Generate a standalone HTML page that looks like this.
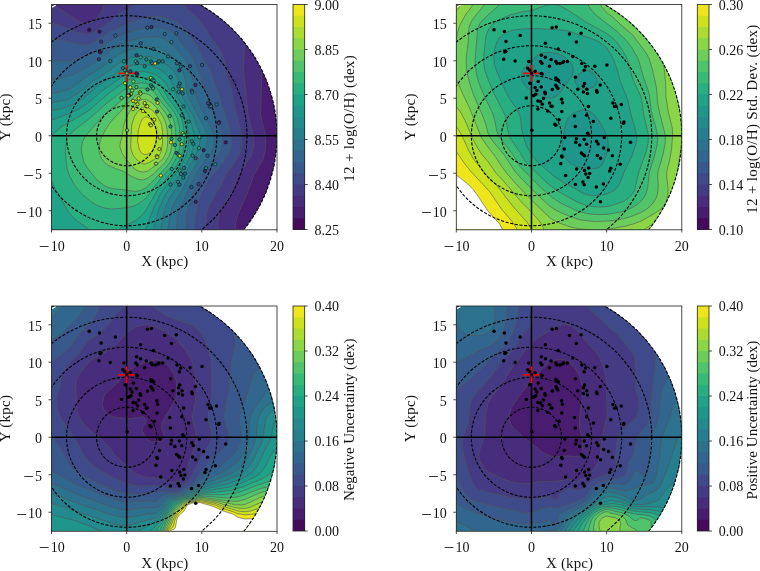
<!DOCTYPE html><html><head><meta charset="utf-8"><style>html,body{margin:0;padding:0;background:#fff;overflow:hidden}svg{display:block;will-change:transform}.t{font-family:"Liberation Serif",serif;font-size:14px;fill:#111;opacity:0.99}.l{font-family:"Liberation Serif",serif;font-size:15px;fill:#111;opacity:0.99}</style></head><body>
<svg width="760" height="571" viewBox="0 0 760 571">
<rect width="760" height="571" fill="#fff"/>
<clipPath id="cp0"><rect x="51.5" y="4.5" width="225.5" height="225"/></clipPath>
<clipPath id="cc0"><ellipse cx="126.67" cy="135.75" rx="150.33" ry="150.00"/></clipPath>
<g clip-path="url(#cp0)"><g clip-path="url(#cc0)" stroke="#555" stroke-opacity="0.85" stroke-width="0.7">
<path d="M49.6 233.2l231.2 0l0-232.4l-1.9 0l-231.2 0l0 232.4z" fill="#460a5d"/>
<path d="M49.6 233.2l228.6 0l-3.9-11.2l-0.3-3.8l0.9-3.7l3.2-5.6l1.3-3.8l-0.2-5.6l-3.2-11.3l-0.7-5.6l0.3-3.7l1.4-5.7l1.9-4l1.9-2.7l0-158.3l0-7.4l-233.1 0l0 232.4z" fill="#481c6e"/>
<path d="M49.6 233.2l185.2 0l0.9-9.6l1.1-5.4l1.9-5.6l9.1-20.6l6-16.9l9-15l2.4-9.3l0.5-7.6l-0.8-11.2l-3.6-13.1l-0.7-5.7l0.6-13.1l0.2-20.6l0.6-9.4l1.5-7.5l1.8-3.7l11.7-16.9l0.4-1.9l-0.4-1.9l-4.5-7.4l-0.1-1.9l0.8-2.2l1.9-2.2l1.9-1.3l3.8-1l0-12.1l0-9.3l-233.1 0l0 232.4z" fill="#472d7b"/>
<path d="M49.6 233.2l168 0l0.6-13.1l0.5-3.7l1.1-3.8l2.9-5.6l8.7-13.1l5.4-15l2.6-5.7l11.6-16.8l2-5.6l0.9-7.6l-0.1-3.7l-0.8-5.6l-4.1-15l-0.7-3.8l-4.2-39.3l-0.6-13.2l1.6-18.7l-1.1-7.5l-2.6-8.4l-3.8-8.8l-1.8-2.4l-7.6-4.8l-4.7-3.8l-2.8-3.7l-1.3-3.7l-114.1 0l-0.9 3.7l-2.1 5.6l-2 3.8l-2.9 3.7l-2.6 2.4l-3.7 2.4l-1.9 0.8l-3.8 0.6l-2.6-0.6l-3-1.3l-3.8-2.9l-18.8-11.4l-9.4-4.9l0 230.5zM241.3 6.4l1.9 0.4l3.7-0.1l15.1-2.7l11.2 0.7l7.6-0.7l0-3.2l-42.4 0l1 3.7l1.8 1.9z" fill="#443b84"/>
<path d="M49.6 233.2l155.4 0l0.6-11.2l1.5-9.4l1-3.7l6.9-13.8l5.6-9.2l3.1-7l2-3.8l9.2-13.1l4.5-7.5l2-5.6l0.7-7.5l-0.5-5.6l-1.1-5.7l-5.9-24.3l-3.3-16.9l-4.4-15l-1.9-11.3l-1.1-3.7l-2.2-5.7l-2-3.7l-7.3-9.4l-8.7-14.1l-5.6-7.3l-13.3-12.3l-4.4-5.6l-40.4 0l-4.7 3.7l-5.9 3.7l-11.2 5.7l-8 7.5l-7.7 5.6l-9.7 5.8l-3.7 1.2l-3.8 0l-7.5-1.5l-18.8-7.4l-5.6-1.5l-5.7-0.8l0 210.4z" fill="#3e4a89"/>
<path d="M49.6 233.2l145.3 0l0-9.3l1-9.4l2.7-13.1l2.4-7.5l3.7-7.5l4.7-7.2l12.8-15.3l5.3-7.5l2-3.8l1.4-3.7l0.8-3.8l0.2-3.7l-0.9-7.5l-3-11.3l-8-26.2l-5.8-15l-3.5-11.3l-6.1-9.3l-6.5-13.2l-1.9-2.7l-9.9-14.1l-5.1-5.8l-5.7-3.6l-5.6-2.5l-5.7-1.6l-5.6-0.8l-5.6 0l-7.5 1.2l-9.4 2.3l-7.6 2.5l-11.2 5.3l-11.3 6.3l-11.3 7.7l-5.6 2.4l-3.8 0.4l-5.6-0.4l-18.2-4.1l-8.1-1.4l-5.7-0.4l0 194.9z" fill="#38598c"/>
<path d="M49.6 233.2l136.2 0l0.4-16.8l2.1-9.4l1.7-5.6l6.2-14.7l5.6-11l3.8-5.2l4.4-4.7l5.9-7.6l3.8-5.6l2.2-5.6l0.9-5.6l-0.5-5.6l-2-7.6l-2.4-5.6l-6.5-13.1l-3.9-11.3l-7-22.4l-8.1-18.8l-1.8-3.8l-8.4-9.3l-6.7-9.2l-1.9-1.9l-3.7-2.1l-5.7-2.2l-5.6-0.9l-5.6-0.2l-7.5 0.7l-7.6 1.6l-7.5 2.1l-7.5 2.8l-9.4 4.1l-3.7 2l-18.8 13.6l-11.3 4.3l-7.5 1.8l-5.7 0.7l-18.8-0.4l0 172.5z" fill="#31668e"/>
<path d="M49.6 233.2l126.8 0l0.8-15l1.2-5.6l1.7-5.6l7.5-15l3.9-9.4l3.8-7.5l4.7-7.4l10.6-15.1l2.2-3.7l1.1-3.8l0.5-3.7l-0.2-5.6l-1.1-3.8l-11.3-22.5l-4.9-11.3l-5.6-24.3l-1.9-5.7l-2.6-5.5l-2.2-3.8l-7.2-8.8l-5.6-5.7l-4.9-4.3l-4.5-2.1l-3.8-0.9l-5.6-0.4l-5.7 0.4l-7.5 1.2l-7.5 1.9l-7.5 2.5l-5.6 2.5l-7.6 4.5l-11.5 9.2l-5.4 3.7l-13.1 7.6l-9.4 4.5l-11.3 3.6l-5.6 0.9l-7.6 0.4l0 153.6z" fill="#2c728e"/>
<path d="M49.6 233.2l118.1 0l1.9-16.8l1.4-5.6l2.1-5.7l1.8-3.7l7.1-11.3l8.6-16.6l12.2-20.9l3.6-7.5l0.8-3.7l-0.1-5.6l-1.7-5.7l-16.4-31.9l-1.6-3.7l-0.9-3.7l-1.3-11.3l-1.5-5.6l-1.5-3.8l-2.1-3.7l-2.7-3.7l-5.6-6.1l-5.7-4.6l-5.6-3.5l-3.8-1.2l-5.6-0.6l-5.6 0.1l-5.7 0.8l-11.3 2.5l-3.7 1.5l-5.6 2.9l-5.7 3.8l-13.1 10l-11.3 6.7l-15.1 11.1l-3.7 2.3l-5.6 2.3l-3.8 0.9l-5.6 1.2l-7.6 0.6l0 139.8z" fill="#277e8e"/>
<path d="M49.6 233.2l111 0l0.4-5.6l1.9-11.2l1.3-5.6l2-5.7l3.7-7.5l11.3-16.9l13-22.5l1.8-3.7l3.4-9.4l1.2-5.6l0-3.7l-0.9-3.8l-3.5-7.6l-2.5-7.4l-2.9-5.6l-7.8-13.2l-1.7-3.7l-1-3.7l-1.2-7.6l-1.7-5.6l-1.9-3.8l-3.7-4.8l-7.6-6.1l-5.6-3.2l-5.6-2.3l-3.8-0.7l-7.5-0.3l-7.5 0.6l-7.5 2.1l-7.5 4l-15.1 11.1l-11.5 7.2l-13.7 11.2l-8.6 5.6l-3.8 1.7l-3.7 1l-15.1 2.1l0 130.2z" fill="#238a8d"/>
<path d="M49.6 233.2l104 0l0.5-5.6l0.9-3.7l3.5-13.1l3.5-9.4l4.1-7.8l14.5-20.4l7.9-13.1l3.2-7.5l2.8-13.1l-0.3-5.6l-1.9-5.7l-3-11.2l-3.9-7.5l-8.4-13.1l-3.8-11.3l-2.4-5.6l-2.8-3.6l-5.6-4.8l-5.7-3.2l-5.6-2.1l-5.6-1.1l-5.7-0.3l-7.5 0.8l-5.6 1.7l-8.9 5.1l-9.9 7.5l-11.3 7.3l-7.5 7l-5.4 4.4l-9.7 6l-5.6 2.4l-9.4 2.7l-11.3 2l0 121.9z" fill="#1f968b"/>
<path d="M49.6 233.2l94.8 0l1.7-5.6l7.3-18.7l6-13.1l4.7-7.6l10.3-13.1l7.5-11.2l3.9-7.5l2.2-7.5l1.1-13.1l-1.9-11.3l-1.4-5.6l-3.6-7.5l-9.2-13.2l-3.5-7.4l-2.6-5.7l-2.7-3.8l-4.1-3.7l-5.2-3.1l-5.7-2l-5.6-1l-5.7-0.2l-5.6 0.9l-5.6 1.9l-5.7 3.2l-11.2 8.3l-7.8 5.2l-12.9 11.5l-10.9 7.2l-6 2.9l-13.2 5.1l-7.5 2.6l-3.8 0.8l0 112.3z" fill="#1fa287"/>
<path d="M91 231.4l1.3 1.8l23.6 0l3.2-3.7l3.8-3.1l11.3-5.1l5.6-4l3.8-4l1.9-2.5l13.1-22.6l16.6-20.6l4.5-7.5l2.5-5.6l1.8-7.5l0.4-11.2l-1.2-11.3l-1.5-5.6l-1.6-3.8l-6.2-9.3l-5.8-7.6l-7.6-13.3l-3.8-2.8l-5.6-2.8l-3.8-1.1l-5.6-0.8l-5.6 0.3l-3.8 0.8l-3.8 1.4l-5.9 3.3l-5.4 3.8l-12.1 9.4l-16 13.8l-5.7 3.9l-22.5 12.9l-9.4 8.8l-3.8 2.7l0 35.4l1.9 2.9l5.3 11.4l7.9 13.5l3.6 7.2l2 3l5.6 6.5l3.8 3.1l8.9 6.1l4.2 3.8z" fill="#28ae80"/>
<path d="M111.6 208.9l9.4-0.6l9.4-1.3l3.8-1l3.7-1.9l7.6-5.5l3.7-4.6l5.7-8.3l17.1-19.9l5.3-9.4l2.2-7.5l0.7-9.4l-0.9-13.1l-1.8-7.5l-2.8-5.7l-4-5.6l-6.1-7.5l-6-9.8l-1.9-2.4l-3.7-2.2l-5.7-2.1l-5.6-0.7l-5.6 0.5l-5.6 1.7l-7.7 5.7l-16.8 13.1l-16.9 15l-14.8 11.2l-5.6 5.7l-1.1 1.8l-1.2 3.8l-1 11.2l1.5 15l2.3 7.5l4.8 9l3.8 5.1l5.6 6.3l7.6 6.2l5.6 3.4l3.8 1.7l5.6 1.6l4.5 0.5z" fill="#38b977"/>
<path d="M126.7 190.2l7.5 1.2l5.6-0.6l5.7-2.9l3.7-3.2l7.5-7.4l9.1-9.7l4.1-5.3l3.2-5.9l1.4-3.8l0.9-3.7l0.6-5.7l-0.4-13.1l-0.8-5.6l-1.5-5.6l-1.9-3.8l-2.4-3.7l-7.7-9.4l-6.6-9.4l-1.7-1.6l-1.9-1l-3.8-1.3l-3.7-0.6l-3.8 0l-3.7 0.6l-3.8 2.1l-18.8 16.4l-5.7 4.2l-5.8 5.6l-16.3 18.8l-2.9 5.6l-1.4 5.6l0.3 5.6l2.1 9.4l3.3 5.6l9.5 12l7.5 5.7l3.8 2l5.6 1.4l13 1.4z" fill="#50c46a"/>
<path d="M137.9 179.2l3.8 0.7l1.9-0.1l3.7-1.4l5.7-4l12.5-12.4l3.3-5.6l2-5.6l1-5.7l0.2-7.5l-0.7-9.4l-1.2-5.6l-1.3-3.7l-3.1-5.7l-7.1-8.9l-7.5-8.2l-2.3-1.6l-3.3-0.9l-3.8-0.3l-3.8 0.9l-1.8 1.2l-5.5 4.7l-11.4 13.1l-5.9 5.7l-4.5 5.6l-5.6 9.4l-1.8 3.7l-1.9 5.6l-0.7 5.7l0.5 3.7l1.2 3.8l2 3.7l3.5 3.9l1.9 1.2l7.5 3.3l7.5 2.6l7.5 4.7l6.7 3.1z" fill="#6ccd5a"/>
<path d="M139.8 171.6l3.8 0.4l3.7-0.9l3.8-2.4l9.4-7.5l2.6-3l2.1-3.7l1.3-3.7l1-5.7l0.2-5.6l-0.5-9.4l-1-5.6l-2-5.6l-3.7-6.4l-3.8-5l-5.6-5.3l-3.8-2.1l-1.8-0.5l-3.8 0.1l-3.8 1.7l-3.7 3.3l-3.5 4.8l-4 7.5l-2.3 5.6l-0.9 3.8l-1.2 9.4l-2.5 9.3l0.2 1.9l1.8 5.6l3.5 5.6l7.9 9.4l2.9 2.3l3.1 1.5z" fill="#8bd646"/>
<path d="M145.5 163.9l3.7-1.5l5.7-3.3l3.7-3.1l1.9-2.9l0.8-2.3l1.2-7.6l0.1-11.2l-0.8-5.6l-1-3.8l-3-5.6l-2.9-3.9l-3.8-3.7l-3-1.8l-2.6-0.8l-1.9 0.2l-1.9 0.9l-3.9 3.5l-3.6 5.7l-2.4 7.4l-0.3 3.7l-0.8 18.8l0.3 1.9l1.8 5.6l2.6 3.7l4.2 3.8l2.1 1.2l1.9 0.6l1.6 0.1z" fill="#addc30"/>
<path d="M141.7 153.1l1.9 1.1l1.9 0.3l1.8-0.3l3.4-1.6l2.3-2.7l2.5-6.7l1.4-7.4l-0.2-5.8l-1.2-3.6l-4.4-6.9l-1.9-1.6l-1.9-0.8l-1.8-0.1l-1.9 0.9l-1 1l-2.1 3.7l-2.1 7.5l-0.9 11.3l1.7 7.5l0.7 1.9l1.3 1.8z" fill="#cde11d"/>
</g></g>
<g clip-path="url(#cp0)" fill="none" stroke="#000" stroke-width="1.1" stroke-dasharray="3.1 1.6">
<ellipse cx="126.67" cy="135.75" rx="30.07" ry="30.00"/>
<ellipse cx="126.67" cy="135.75" rx="60.13" ry="60.00"/>
<ellipse cx="126.67" cy="135.75" rx="90.20" ry="90.00"/>
<ellipse cx="126.67" cy="135.75" rx="120.27" ry="120.00"/>
<ellipse cx="126.67" cy="135.75" rx="150.33" ry="150.00"/>
</g>
<line x1="51.5" y1="135.75" x2="277.0" y2="135.75" stroke="#000" stroke-width="1.5"/>
<line x1="126.67" y1="4.5" x2="126.67" y2="229.5" stroke="#000" stroke-width="1.5"/>
<g clip-path="url(#cp0)"><path d="M118.4 73.4H135.0M126.7 65.0V81.8" stroke="#f00" stroke-width="1.7" fill="none"/><circle cx="89.2" cy="29.8" r="1.65" fill="#460a5d" stroke="#111" stroke-width="0.65"/>
<circle cx="99.6" cy="31.6" r="1.65" fill="#460a5d" stroke="#111" stroke-width="0.65"/>
<circle cx="115.4" cy="35.6" r="1.65" fill="#2c728e" stroke="#111" stroke-width="0.65"/>
<circle cx="101.2" cy="41.6" r="1.65" fill="#443b84" stroke="#111" stroke-width="0.65"/>
<circle cx="101.0" cy="51.3" r="1.65" fill="#1f968b" stroke="#111" stroke-width="0.65"/>
<circle cx="100.0" cy="52.1" r="1.65" fill="#460a5d" stroke="#111" stroke-width="0.65"/>
<circle cx="98.9" cy="59.3" r="1.65" fill="#443b84" stroke="#111" stroke-width="0.65"/>
<circle cx="110.3" cy="61.1" r="1.65" fill="#277e8e" stroke="#111" stroke-width="0.65"/>
<circle cx="124.0" cy="61.4" r="1.65" fill="#1fa287" stroke="#111" stroke-width="0.65"/>
<circle cx="147.3" cy="27.8" r="1.65" fill="#31668e" stroke="#111" stroke-width="0.65"/>
<circle cx="151.5" cy="27.1" r="1.65" fill="#472d7b" stroke="#111" stroke-width="0.65"/>
<circle cx="164.7" cy="34.0" r="1.65" fill="#2c728e" stroke="#111" stroke-width="0.65"/>
<circle cx="140.6" cy="43.2" r="1.65" fill="#38598c" stroke="#111" stroke-width="0.65"/>
<circle cx="153.4" cy="48.9" r="1.65" fill="#38598c" stroke="#111" stroke-width="0.65"/>
<circle cx="136.6" cy="55.2" r="1.65" fill="#443b84" stroke="#111" stroke-width="0.65"/>
<circle cx="140.6" cy="57.3" r="1.65" fill="#28ae80" stroke="#111" stroke-width="0.65"/>
<circle cx="146.3" cy="59.4" r="1.65" fill="#238a8d" stroke="#111" stroke-width="0.65"/>
<circle cx="135.8" cy="61.4" r="1.65" fill="#38b977" stroke="#111" stroke-width="0.65"/>
<circle cx="137.1" cy="63.2" r="1.65" fill="#2c728e" stroke="#111" stroke-width="0.65"/>
<circle cx="151.0" cy="61.4" r="1.65" fill="#238a8d" stroke="#111" stroke-width="0.65"/>
<circle cx="152.1" cy="63.2" r="1.65" fill="#238a8d" stroke="#111" stroke-width="0.65"/>
<circle cx="155.2" cy="63.4" r="1.65" fill="#efe51c" stroke="#111" stroke-width="0.65"/>
<circle cx="157.9" cy="62.4" r="1.65" fill="#238a8d" stroke="#111" stroke-width="0.65"/>
<circle cx="158.9" cy="61.4" r="1.65" fill="#277e8e" stroke="#111" stroke-width="0.65"/>
<circle cx="162.6" cy="61.4" r="1.65" fill="#277e8e" stroke="#111" stroke-width="0.65"/>
<circle cx="144.7" cy="66.3" r="1.65" fill="#238a8d" stroke="#111" stroke-width="0.65"/>
<circle cx="122.9" cy="68.2" r="1.65" fill="#2c728e" stroke="#111" stroke-width="0.65"/>
<circle cx="125.0" cy="70.3" r="1.65" fill="#1fa287" stroke="#111" stroke-width="0.65"/>
<circle cx="130.3" cy="71.3" r="1.65" fill="#3e4a89" stroke="#111" stroke-width="0.65"/>
<circle cx="137.3" cy="74.0" r="1.65" fill="#2c728e" stroke="#111" stroke-width="0.65"/>
<circle cx="176.3" cy="33.2" r="1.65" fill="#2c728e" stroke="#111" stroke-width="0.65"/>
<circle cx="171.5" cy="42.1" r="1.65" fill="#238a8d" stroke="#111" stroke-width="0.65"/>
<circle cx="168.1" cy="56.5" r="1.65" fill="#277e8e" stroke="#111" stroke-width="0.65"/>
<circle cx="177.0" cy="63.4" r="1.65" fill="#2c728e" stroke="#111" stroke-width="0.65"/>
<circle cx="180.7" cy="66.4" r="1.65" fill="#2c728e" stroke="#111" stroke-width="0.65"/>
<circle cx="179.4" cy="70.3" r="1.65" fill="#472d7b" stroke="#111" stroke-width="0.65"/>
<circle cx="190.0" cy="66.2" r="1.65" fill="#3e4a89" stroke="#111" stroke-width="0.65"/>
<circle cx="202.1" cy="65.0" r="1.65" fill="#31668e" stroke="#111" stroke-width="0.65"/>
<circle cx="136.4" cy="73.5" r="1.65" fill="#481c6e" stroke="#111" stroke-width="0.65"/>
<circle cx="125.0" cy="83.2" r="1.65" fill="#cde11d" stroke="#111" stroke-width="0.65"/>
<circle cx="133.4" cy="81.4" r="1.65" fill="#8bd646" stroke="#111" stroke-width="0.65"/>
<circle cx="151.0" cy="77.9" r="1.65" fill="#addc30" stroke="#111" stroke-width="0.65"/>
<circle cx="152.6" cy="79.5" r="1.65" fill="#28ae80" stroke="#111" stroke-width="0.65"/>
<circle cx="153.7" cy="80.6" r="1.65" fill="#1fa287" stroke="#111" stroke-width="0.65"/>
<circle cx="130.3" cy="87.4" r="1.65" fill="#efe51c" stroke="#111" stroke-width="0.65"/>
<circle cx="136.4" cy="87.1" r="1.65" fill="#50c46a" stroke="#111" stroke-width="0.65"/>
<circle cx="132.1" cy="90.5" r="1.65" fill="#8bd646" stroke="#111" stroke-width="0.65"/>
<circle cx="151.0" cy="85.3" r="1.65" fill="#1f968b" stroke="#111" stroke-width="0.65"/>
<circle cx="152.1" cy="86.9" r="1.65" fill="#238a8d" stroke="#111" stroke-width="0.65"/>
<circle cx="153.1" cy="88.4" r="1.65" fill="#28ae80" stroke="#111" stroke-width="0.65"/>
<circle cx="147.5" cy="89.5" r="1.65" fill="#238a8d" stroke="#111" stroke-width="0.65"/>
<circle cx="140.1" cy="92.3" r="1.65" fill="#addc30" stroke="#111" stroke-width="0.65"/>
<circle cx="140.5" cy="93.7" r="1.65" fill="#8bd646" stroke="#111" stroke-width="0.65"/>
<circle cx="131.0" cy="94.2" r="1.65" fill="#addc30" stroke="#111" stroke-width="0.65"/>
<circle cx="129.4" cy="95.2" r="1.65" fill="#481c6e" stroke="#111" stroke-width="0.65"/>
<circle cx="128.4" cy="95.8" r="1.65" fill="#addc30" stroke="#111" stroke-width="0.65"/>
<circle cx="121.5" cy="97.9" r="1.65" fill="#6ccd5a" stroke="#111" stroke-width="0.65"/>
<circle cx="138.7" cy="98.4" r="1.65" fill="#cde11d" stroke="#111" stroke-width="0.65"/>
<circle cx="133.1" cy="101.0" r="1.65" fill="#efe51c" stroke="#111" stroke-width="0.65"/>
<circle cx="135.8" cy="101.6" r="1.65" fill="#cde11d" stroke="#111" stroke-width="0.65"/>
<circle cx="137.5" cy="104.2" r="1.65" fill="#cde11d" stroke="#111" stroke-width="0.65"/>
<circle cx="144.7" cy="103.1" r="1.65" fill="#cde11d" stroke="#111" stroke-width="0.65"/>
<circle cx="146.3" cy="106.3" r="1.65" fill="#cde11d" stroke="#111" stroke-width="0.65"/>
<circle cx="147.3" cy="106.3" r="1.65" fill="#cde11d" stroke="#111" stroke-width="0.65"/>
<circle cx="156.8" cy="99.3" r="1.65" fill="#2c728e" stroke="#111" stroke-width="0.65"/>
<circle cx="157.6" cy="102.8" r="1.65" fill="#efe51c" stroke="#111" stroke-width="0.65"/>
<circle cx="133.1" cy="109.1" r="1.65" fill="#efe51c" stroke="#111" stroke-width="0.65"/>
<circle cx="157.0" cy="111.6" r="1.65" fill="#31668e" stroke="#111" stroke-width="0.65"/>
<circle cx="142.9" cy="111.1" r="1.65" fill="#efe51c" stroke="#111" stroke-width="0.65"/>
<circle cx="154.2" cy="119.7" r="1.65" fill="#cde11d" stroke="#111" stroke-width="0.65"/>
<circle cx="150.0" cy="124.2" r="1.65" fill="#cde11d" stroke="#111" stroke-width="0.65"/>
<circle cx="151.0" cy="125.3" r="1.65" fill="#addc30" stroke="#111" stroke-width="0.65"/>
<circle cx="170.7" cy="77.2" r="1.65" fill="#277e8e" stroke="#111" stroke-width="0.65"/>
<circle cx="179.7" cy="83.5" r="1.65" fill="#2c728e" stroke="#111" stroke-width="0.65"/>
<circle cx="178.6" cy="86.3" r="1.65" fill="#277e8e" stroke="#111" stroke-width="0.65"/>
<circle cx="173.0" cy="89.2" r="1.65" fill="#28ae80" stroke="#111" stroke-width="0.65"/>
<circle cx="182.0" cy="89.2" r="1.65" fill="#cde11d" stroke="#111" stroke-width="0.65"/>
<circle cx="178.6" cy="91.9" r="1.65" fill="#238a8d" stroke="#111" stroke-width="0.65"/>
<circle cx="182.6" cy="93.4" r="1.65" fill="#2c728e" stroke="#111" stroke-width="0.65"/>
<circle cx="195.4" cy="85.0" r="1.65" fill="#472d7b" stroke="#111" stroke-width="0.65"/>
<circle cx="191.8" cy="90.5" r="1.65" fill="#31668e" stroke="#111" stroke-width="0.65"/>
<circle cx="192.3" cy="92.3" r="1.65" fill="#277e8e" stroke="#111" stroke-width="0.65"/>
<circle cx="183.6" cy="106.5" r="1.65" fill="#238a8d" stroke="#111" stroke-width="0.65"/>
<circle cx="208.1" cy="103.1" r="1.65" fill="#3e4a89" stroke="#111" stroke-width="0.65"/>
<circle cx="209.7" cy="106.5" r="1.65" fill="#38598c" stroke="#111" stroke-width="0.65"/>
<circle cx="211.2" cy="106.3" r="1.65" fill="#2c728e" stroke="#111" stroke-width="0.65"/>
<circle cx="216.5" cy="104.5" r="1.65" fill="#277e8e" stroke="#111" stroke-width="0.65"/>
<circle cx="169.7" cy="116.0" r="1.65" fill="#28ae80" stroke="#111" stroke-width="0.65"/>
<circle cx="181.8" cy="115.3" r="1.65" fill="#238a8d" stroke="#111" stroke-width="0.65"/>
<circle cx="188.6" cy="121.6" r="1.65" fill="#1f968b" stroke="#111" stroke-width="0.65"/>
<circle cx="206.0" cy="118.2" r="1.65" fill="#31668e" stroke="#111" stroke-width="0.65"/>
<circle cx="219.1" cy="122.1" r="1.65" fill="#481c6e" stroke="#111" stroke-width="0.65"/>
<circle cx="218.6" cy="123.2" r="1.65" fill="#443b84" stroke="#111" stroke-width="0.65"/>
<circle cx="170.5" cy="126.5" r="1.65" fill="#1f968b" stroke="#111" stroke-width="0.65"/>
<circle cx="127.1" cy="130.3" r="1.65" fill="#6ccd5a" stroke="#111" stroke-width="0.65"/>
<circle cx="160.0" cy="137.6" r="1.65" fill="#cde11d" stroke="#111" stroke-width="0.65"/>
<circle cx="159.4" cy="149.0" r="1.65" fill="#cde11d" stroke="#111" stroke-width="0.65"/>
<circle cx="156.8" cy="156.1" r="1.65" fill="#cde11d" stroke="#111" stroke-width="0.65"/>
<circle cx="157.3" cy="157.1" r="1.65" fill="#cde11d" stroke="#111" stroke-width="0.65"/>
<circle cx="156.0" cy="163.7" r="1.65" fill="#8bd646" stroke="#111" stroke-width="0.65"/>
<circle cx="160.8" cy="175.5" r="1.65" fill="#efe51c" stroke="#111" stroke-width="0.65"/>
<circle cx="182.8" cy="133.2" r="1.65" fill="#cde11d" stroke="#111" stroke-width="0.65"/>
<circle cx="183.9" cy="134.7" r="1.65" fill="#38b977" stroke="#111" stroke-width="0.65"/>
<circle cx="199.4" cy="137.4" r="1.65" fill="#28ae80" stroke="#111" stroke-width="0.65"/>
<circle cx="171.5" cy="138.7" r="1.65" fill="#1fa287" stroke="#111" stroke-width="0.65"/>
<circle cx="179.4" cy="139.5" r="1.65" fill="#1fa287" stroke="#111" stroke-width="0.65"/>
<circle cx="171.0" cy="142.3" r="1.65" fill="#efe51c" stroke="#111" stroke-width="0.65"/>
<circle cx="174.9" cy="145.0" r="1.65" fill="#1f968b" stroke="#111" stroke-width="0.65"/>
<circle cx="181.8" cy="144.3" r="1.65" fill="#addc30" stroke="#111" stroke-width="0.65"/>
<circle cx="191.8" cy="141.3" r="1.65" fill="#238a8d" stroke="#111" stroke-width="0.65"/>
<circle cx="193.3" cy="143.9" r="1.65" fill="#238a8d" stroke="#111" stroke-width="0.65"/>
<circle cx="198.9" cy="148.1" r="1.65" fill="#28ae80" stroke="#111" stroke-width="0.65"/>
<circle cx="203.6" cy="150.1" r="1.65" fill="#481c6e" stroke="#111" stroke-width="0.65"/>
<circle cx="225.7" cy="142.3" r="1.65" fill="#481c6e" stroke="#111" stroke-width="0.65"/>
<circle cx="176.5" cy="152.9" r="1.65" fill="#31668e" stroke="#111" stroke-width="0.65"/>
<circle cx="178.3" cy="154.5" r="1.65" fill="#238a8d" stroke="#111" stroke-width="0.65"/>
<circle cx="179.7" cy="155.8" r="1.65" fill="#cde11d" stroke="#111" stroke-width="0.65"/>
<circle cx="192.6" cy="155.6" r="1.65" fill="#238a8d" stroke="#111" stroke-width="0.65"/>
<circle cx="195.7" cy="158.2" r="1.65" fill="#38598c" stroke="#111" stroke-width="0.65"/>
<circle cx="207.5" cy="155.7" r="1.65" fill="#38598c" stroke="#111" stroke-width="0.65"/>
<circle cx="215.4" cy="164.2" r="1.65" fill="#1f968b" stroke="#111" stroke-width="0.65"/>
<circle cx="171.8" cy="169.0" r="1.65" fill="#1fa287" stroke="#111" stroke-width="0.65"/>
<circle cx="183.9" cy="167.9" r="1.65" fill="#277e8e" stroke="#111" stroke-width="0.65"/>
<circle cx="179.7" cy="170.5" r="1.65" fill="#28ae80" stroke="#111" stroke-width="0.65"/>
<circle cx="206.0" cy="168.2" r="1.65" fill="#1f968b" stroke="#111" stroke-width="0.65"/>
<circle cx="204.9" cy="171.1" r="1.65" fill="#481c6e" stroke="#111" stroke-width="0.65"/>
<circle cx="181.0" cy="173.9" r="1.65" fill="#238a8d" stroke="#111" stroke-width="0.65"/>
<circle cx="184.9" cy="173.6" r="1.65" fill="#31668e" stroke="#111" stroke-width="0.65"/>
<circle cx="183.3" cy="177.6" r="1.65" fill="#238a8d" stroke="#111" stroke-width="0.65"/>
<circle cx="178.1" cy="181.9" r="1.65" fill="#238a8d" stroke="#111" stroke-width="0.65"/>
<circle cx="170.5" cy="184.5" r="1.65" fill="#238a8d" stroke="#111" stroke-width="0.65"/>
<circle cx="198.6" cy="184.0" r="1.65" fill="#3e4a89" stroke="#111" stroke-width="0.65"/>
<circle cx="179.4" cy="184.7" r="1.65" fill="#31668e" stroke="#111" stroke-width="0.65"/>
<circle cx="191.5" cy="187.1" r="1.65" fill="#38598c" stroke="#111" stroke-width="0.65"/>
<circle cx="195.7" cy="201.8" r="1.65" fill="#481c6e" stroke="#111" stroke-width="0.65"/>
<circle cx="126.8" cy="73.3" r="1.65" fill="#50c46a" stroke="#111" stroke-width="0.65"/></g>
<path d="M52.4 6.9L55.4 5.2" stroke="#f4f4f4" stroke-width="1.3" stroke-linecap="round"/>
<rect x="51.5" y="4.5" width="225.5" height="225.3" fill="none" stroke="#2a2a2a" stroke-width="0.85"/>
<path d="M51.50 229.5V232.5M126.67 229.5V232.5M201.83 229.5V232.5M277.00 229.5V232.5M51.5  210.75H48.5M51.5  173.25H48.5M51.5  135.75H48.5M51.5  98.25H48.5M51.5  60.75H48.5M51.5  23.25H48.5" stroke="#222" stroke-width="0.8" fill="none"/>
<text x="50.65" y="250.8" class="t">10</text>
<rect x="39.75" y="246" width="8.8" height="1" fill="#111" fill-opacity="0.85"/>
<text x="126.67" y="250.8" text-anchor="middle" class="t">0</text>
<text x="201.83" y="250.8" text-anchor="middle" class="t">10</text>
<text x="277.00" y="250.8" text-anchor="middle" class="t">20</text>
<text x="41.9" y="216.95" text-anchor="end" class="t">10</text>
<rect x="17.30" y="212" width="8.8" height="1" fill="#111" fill-opacity="0.85"/>
<text x="41.9" y="179.45" text-anchor="end" class="t">5</text>
<rect x="24.30" y="175" width="8.8" height="1" fill="#111" fill-opacity="0.85"/>
<text x="41.9" y="141.95" text-anchor="end" class="t">0</text>
<text x="41.9" y="104.45" text-anchor="end" class="t">5</text>
<text x="41.9" y="66.95" text-anchor="end" class="t">10</text>
<text x="41.9" y="29.45" text-anchor="end" class="t">15</text>
<text x="164.75" y="266.3" text-anchor="middle" class="l" textLength="47" lengthAdjust="spacing">X (kpc)</text>
<text transform="translate(10.2 117.1) rotate(-90)" text-anchor="middle" class="l" textLength="47.2" lengthAdjust="spacing">Y (kpc)</text>
<rect x="293.0" y="4.50" width="11.7" height="225.00" fill="#efe51c"/>
<rect x="293.0" y="15.75" width="11.7" height="213.75" fill="#cde11d"/>
<rect x="293.0" y="27.00" width="11.7" height="202.50" fill="#addc30"/>
<rect x="293.0" y="38.25" width="11.7" height="191.25" fill="#8bd646"/>
<rect x="293.0" y="49.50" width="11.7" height="180.00" fill="#6ccd5a"/>
<rect x="293.0" y="60.75" width="11.7" height="168.75" fill="#50c46a"/>
<rect x="293.0" y="72.00" width="11.7" height="157.50" fill="#38b977"/>
<rect x="293.0" y="83.25" width="11.7" height="146.25" fill="#28ae80"/>
<rect x="293.0" y="94.50" width="11.7" height="135.00" fill="#1fa287"/>
<rect x="293.0" y="105.75" width="11.7" height="123.75" fill="#1f968b"/>
<rect x="293.0" y="117.00" width="11.7" height="112.50" fill="#238a8d"/>
<rect x="293.0" y="128.25" width="11.7" height="101.25" fill="#277e8e"/>
<rect x="293.0" y="139.50" width="11.7" height="90.00" fill="#2c728e"/>
<rect x="293.0" y="150.75" width="11.7" height="78.75" fill="#31668e"/>
<rect x="293.0" y="162.00" width="11.7" height="67.50" fill="#38598c"/>
<rect x="293.0" y="173.25" width="11.7" height="56.25" fill="#3e4a89"/>
<rect x="293.0" y="184.50" width="11.7" height="45.00" fill="#443b84"/>
<rect x="293.0" y="195.75" width="11.7" height="33.75" fill="#472d7b"/>
<rect x="293.0" y="207.00" width="11.7" height="22.50" fill="#481c6e"/>
<rect x="293.0" y="218.25" width="11.7" height="11.25" fill="#460a5d"/>
<rect x="293.0" y="4.5" width="11.7" height="225" fill="none" stroke="#222" stroke-width="0.8"/>
<text x="314.5" y="234.90" class="t">8.25</text>
<text x="314.5" y="189.90" class="t">8.40</text>
<text x="314.5" y="144.90" class="t">8.55</text>
<text x="314.5" y="99.90" class="t">8.70</text>
<text x="314.5" y="54.90" class="t">8.85</text>
<text x="314.5" y="9.90" class="t">9.00</text>
<path d="M304.7 229.50h3M304.7 184.50h3M304.7 139.50h3M304.7 94.50h3M304.7 49.50h3M304.7 4.50h3" stroke="#222" stroke-width="0.8" fill="none"/>
<text transform="translate(353.6 118.5) rotate(-90)" text-anchor="middle" class="l" textLength="126.3" lengthAdjust="spacing">12 + log(O/H) (dex)</text>
<clipPath id="cp1"><rect x="456.3" y="4.5" width="225.5" height="225"/></clipPath>
<clipPath id="cc1"><ellipse cx="531.47" cy="135.75" rx="150.33" ry="150.00"/></clipPath>
<g clip-path="url(#cp1)"><g clip-path="url(#cc1)" stroke="#555" stroke-opacity="0.85" stroke-width="0.7">
<path d="M454.4 233.2l231.2 0l0-232.4l-1.9 0l-231.2 0l0 232.4z" fill="#460a5d"/>
<path d="M454.4 233.2l231.2 0l0-232.4l-1.9 0l-231.2 0l0 232.4z" fill="#481c6e"/>
<path d="M454.4 233.2l231.2 0l0-232.4l-1.9 0l-231.2 0l0 232.4z" fill="#472d7b"/>
<path d="M454.4 233.2l231.2 0l0-232.4l-1.9 0l-231.2 0l0 232.4z" fill="#443b84"/>
<path d="M454.4 233.2l231.2 0l0-232.4l-1.9 0l-231.2 0l0 232.4z" fill="#3e4a89"/>
<path d="M454.4 233.2l231.2 0l0-232.4l-1.9 0l-231.2 0l0 232.4z" fill="#38598c"/>
<path d="M454.4 233.2l231.2 0l0-232.4l-1.9 0l-231.2 0l0 232.4z" fill="#31668e"/>
<path d="M454.4 233.2l231.2 0l0-232.4l-1.9 0l-231.2 0l0 232.4z" fill="#2c728e"/>
<path d="M454.4 233.2l231.2 0l0-232.4l-1.9 0l-231.2 0l0 232.4z" fill="#277e8e"/>
<path d="M454.4 233.2l231.2 0l0-232.4l-1.9 0l-231.2 0l0 232.4z" fill="#238a8d"/>
<path d="M454.4 233.2l231.2 0l0-232.4l-1.9 0l-231.2 0l0 232.4z" fill="#1f968b"/>
<path d="M454.4 233.2l231.2 0l0-232.4l-1.9 0l-231.2 0l0 232.4zM581.6 167.6l-6.6-1.8l-3.8-1.9l-2.4-1.9l-3.5-4.1l-2-3.4l-1.1-3.7l0.4-11.3l2.1-11.3l1.5-5.6l1.7-3.7l2.8-3.8l4-2.7l7.5-2.4l3.8 0l3.7 1.4l3.8 2.9l3.7 4.3l4.2 5.9l2.9 5.6l2.3 5.7l1.1 3.7l0.6 5.6l-0.3 3.8l-1.4 5.6l-3 7.5l-2.4 3.8l-2.1 1.6l-1.9 0.7l-5.6 0.7l-9.4-1zM550.3 98.2l-3.8-0.3l-5.6-2.1l-5.7-2.9l-9.4-5.9l-3.3-5.6l-1.3-3.8l0.4-3.7l1.1-3.8l1.1-1.9l1.8-1.8l9.6-9.1l3.8-3.1l1.9-1l5.6-0.7l5.6 0.3l5.7 0.9l3.7 1.4l3.2 1.9l2.5 1.9l3.4 3.7l2 3.8l0.7 3.7l-0.2 1.9l-1.3 3.8l-10.3 15l-3.4 3.7l-2.2 1.7l-1.9 1.1l-3.7 0.9zM580.1 88.9l-1.7-0.8l-1.9-3l-1.5-3.7l-0.3-1.9l0.5-1.9l4.1-3.7l4.8-3.2l1.4-0.6l2.3-0.1l3.8 2l3.6 3.8l1.8 3.7l0 1.9l-0.5 1.8l-1.1 2.2l-1.9 1.9l-1.9 0.5l-7.5 1l-3.8 0.1z" fill="#1fa287"/>
<path d="M454.4 233.2l231.2 0l0-232.4l-1.9 0l-231.2 0l0 232.4zM584.6 193.9l-4.3-2l-5.9-3.7l-10.7-5.6l-9.7-6.4l-14.3-12.3l-4.5-4.7l-3.7-4.7l-4.5-7.5l-3-7.9l-2.9-12.7l-0.3-7.5l-1-3.8l-2.9-5.6l-7.6-11.3l-3.1-5.6l-9.2-20.6l-2.5-7.5l-0.6-3.7l-0.1-5.7l0.4-3.7l1.3-5.6l2.1-5.2l1.5-2.4l4.2-3.7l5.6-3.1l5.7-1.6l9.4-1l11.2-0.2l8 0.3l18.3 1l7.5 1.2l9.4 3.5l9.4 2.6l7.6 2.9l3.9 1.9l5.1 3.8l2.2 2.2l1.9 2.7l5.6 10.1l3.2 9.3l3 11.3l7.6 18.7l3.7 16.9l3.2 10.4l1.8 8.4l0 3.7l-1 5.6l-3.8 11.3l-6.6 13.1l-6 15l-2.7 3.7l-2.1 1.9l-3.1 1.9l-4.7 1.9l-7.5 1.5l-7.5 0.2l-5.6-1.2z" fill="#28ae80"/>
<path d="M454.4 233.2l231.2 0l0-232.4l-1.9 0l-231.2 0l0 232.4zM597.8 207l-10-1.2l-5.6-1.8l-6-2.6l-16.5-9.1l-7.6-5.2l-5.6-4.7l-15-14.4l-5.7-6l-1.8-2.5l-3.9-6.9l-9-13.1l-2-3.7l-1.8-7.6l-1-9.3l-1.2-3.8l-10.7-20.6l-6.2-14.7l-3.5-9.7l-0.9-5.6l-0.2-7.5l2.3-20.6l2.3-6.3l3.5-5l2.2-1.9l5.6-3.5l11.3-5.2l11.3-2.7l9.4-1.3l7.5-2.7l7.5-2.6l3.8-0.7l5.6 0.3l3.8 1.1l7.5 3.7l20.6 13.6l18.8 10.1l5.7 4.3l2.6 2.5l3.1 3.8l5.2 7.5l3.1 5.6l2.1 5.6l2.3 9.4l2.3 7.5l7 15l1.4 3.7l2.4 16.9l4.4 18.8l0.1 7.5l-1.8 9.4l-7.5 20.6l-4.4 18.7l-1.7 3.1l-2 2.6l-3.6 3.2l-3.9 2.4l-5.5 2.2l-7.5 2.2l-5.6 1l-5.7 0.3z" fill="#38b977"/>
<path d="M454.4 233.2l231.2 0l0-232.4l-99.1 0l1.3 3.7l2.2 3.7l4.9 5.7l6.7 5.6l14.4 11.1l10 9.5l5.8 7.5l5.4 9.4l1.6 3.8l4.8 16.8l4.1 11.3l1.6 5.6l1.8 15l1.6 7.5l2.9 9.4l1.6 7.5l0.4 5.6l-0.6 5.6l-2.1 9.4l-5.4 16.9l-1.9 16.8l-1.6 5.7l-2.1 3.7l-3.4 4l-4.3 3.5l-6.4 3.8l-8.1 3l-13.2 2.3l-9.4 0.4l-9.4-0.6l-7.5-1.5l-7.5-2.8l-13.8-6.5l-8.7-5.6l-11.3-9.9l-20.7-21l-7.5-12.2l-12.9-16.9l-2-3.7l-1.2-3.8l-1.8-9.3l-1.6-5.7l-2.3-5.6l-5.6-11.3l-4-9.3l-2.5-6.3l-1.8-6.4l-1.7-9.8l-0.2-7.5l2.2-26.3l1-5.6l1.8-3.8l2.5-3.2l15-13.6l1.8-1.9l2.4-3.7l-49.3 0l0 232.4z" fill="#50c46a"/>
<path d="M454.4 233.2l231.2 0l0-232.4l-86.3 0l1.1 3.7l1 1.9l3.4 4.2l3.6 3.3l4.9 3.7l7.8 7.5l11.8 10.1l12 16.2l2.5 3.7l1.8 3.8l2.9 9.3l4.2 18.8l1.3 15l1.6 9.1l5.8 22.8l0.4 5.6l-0.2 3.7l-2.2 11.3l-4.9 16.9l-0.4 5.6l0.5 7.5l-0.2 5.6l-0.5 3.8l-1.2 3.7l-2.7 4.8l-3.7 4.2l-3.8 2.9l-5.6 3.2l-9.4 3.8l-7.6 2.2l-11.2 2l-16.9 0.9l-14.1-1.5l-2.9-0.6l-16.9-6.5l-5.6-2.8l-5.6-3.7l-11.3-10.2l-16.9-17l-7.2-7.9l-11.1-16.9l-9.4-11.3l-4.1-5.6l-2.1-4.1l-2.3-9l-2.8-7.5l-9.6-22.5l-3.9-11.3l-2.7-11.2l-0.8-9.4l0.2-5.6l2.1-16.9l0-7.5l0.4-3.7l1-3.8l2.6-5.6l10.6-13.1l1.2-1.9l1.4-3.7l-33.1 0l0 232.4z" fill="#6ccd5a"/>
<path d="M454.4 233.2l231.2 0l0-232.4l-72.7 0l1.7 3.7l1.5 1.9l3.7 3.3l7.5 8.3l13.1 10.9l15.1 16.9l3.8 5.6l2.6 5.6l1.8 7.5l2 18.7l0.2 13.2l2.3 15l4.1 16.8l0.3 7.6l-1 13.1l-1.9 11.2l-2.5 9.4l-0.5 3.7l0.1 4.6l1.3 10.4l-0.3 7.6l-1.4 5.6l-2 3.7l-3.4 3.8l-3.6 2.8l-15.1 8.8l-7.5 3l-9.4 2.7l-24.4 4.3l-5.6-0.1l-17-1.8l-7.5-1.4l-11.2-4l-5.7-2.6l-3.7-2.5l-9.4-8.7l-13.6-13.6l-10.9-11.5l-9.7-11.1l-5.5-7.4l-5.9-9.4l-8.9-11.4l-5-7.4l-12-30l-8.1-16.8l-3.1-7.6l-5.7-10.2l0 160.2zM452.9 55.1l2.6-9.3l1.7-11.3l2-7.5l1.6-3.8l5.3-9.3l4.4-5.7l2.4-3.7l1.5-3.7l-1.2 0l-20.7 0l0 55.8z" fill="#8bd646"/>
<path d="M454.4 233.2l90.4 0l-1.6-5.6l-3.2-5.6l-8-9.4l-11.8-11.9l-16.9-19.9l-7.2-7.6l-7.9-11.4l-6.3-7.3l-4.9-7.5l-3.8-7.4l-8-18.8l-5.1-9.3l-3.8-4.9l-3.8-2.4l0 129zM640.5 233.2l45.1 0l0-120.3l-0.8 4.1l-2.7 13.1l-0.7 16.9l-2.7 15l-1.1 9.4l0.1 3.7l0.9 5.7l3.2 11.2l0 1.9l-0.8 3.7l-3.8 7.5l-2.6 3.8l-4.1 4.2l-3.7 2.8l-5.7 2.8l-16.9 10.8l-4.4 3.7zM685.6 85.4l0-84.6l-43 0l0.7 1.8l4.1 7.5l4.1 5.7l2.1 1.5l5.6 3.1l3.8 2.8l3.4 3.8l4.1 6.1l9.4 7l3.3 3.8l0.7 1.9l0.1 3.7l-2.2 11.3l-1.1 9.3l-0.1 3.8l1.2 5.6l3.5 5.6zM454.2 12l2.1-1.3l1.9-2.1l2.6-4.1l1.5-3.7l-0.4 0l-9.4 0l0 11.9z" fill="#addc30"/>
<path d="M454.4 233.2l78.2 0l-2.1-5.6l-3.6-5.6l-14.2-15.9l-15.1-19.5l-7.7-7.7l-5.4-6.2l-3.8-5l-5-5.7l-2.6-3.8l-4.3-7.4l-5.9-13.2l-4.7-8.4l-1.9-2.2l-3.8-2.4l0 108.6zM661.1 233.2l24.5 0l0-15l-3.8 1.5l-7.3 4.2l-5.6 1.9l-3.6 1.8l-2.3 1.9l-2.5 3.7zM685.6 6.6l0-5.8l-5.7 0l1.9 3.7l3 1.9z" fill="#cde11d"/>
<path d="M454.4 233.2l64 0l-2.3-5.6l-3.6-5.6l-11.1-13.1l-11.5-16.9l-7.3-8l-11.8-12.6l-5.9-7.5l-8.6-12.3l-3.8-3.2l0 84.8z" fill="#efe51c"/>
<path d="M454.4 233.2l49.5 0l-1.2-3.7l-3.1-5.6l-11.9-13.1l-8.7-13.2l-5.4-7.5l-5.3-5.6l-10.1-8.2l-5.7-2.9l0 59.8z" fill="#ffffff"/>
</g></g>
<g clip-path="url(#cp1)" fill="none" stroke="#000" stroke-width="1.1" stroke-dasharray="3.1 1.6">
<ellipse cx="531.47" cy="135.75" rx="30.07" ry="30.00"/>
<ellipse cx="531.47" cy="135.75" rx="60.13" ry="60.00"/>
<ellipse cx="531.47" cy="135.75" rx="90.20" ry="90.00"/>
<ellipse cx="531.47" cy="135.75" rx="120.27" ry="120.00"/>
<ellipse cx="531.47" cy="135.75" rx="150.33" ry="150.00"/>
</g>
<line x1="456.3" y1="135.75" x2="681.8" y2="135.75" stroke="#000" stroke-width="1.5"/>
<line x1="531.47" y1="4.5" x2="531.47" y2="229.5" stroke="#000" stroke-width="1.5"/>
<g clip-path="url(#cp1)"><path d="M523.2 73.4H539.8M531.5 65.0V81.8" stroke="#f00" stroke-width="1.7" fill="none"/><circle cx="494.0" cy="29.8" r="1.75" fill="#000"/>
<circle cx="504.4" cy="31.6" r="1.75" fill="#000"/>
<circle cx="520.2" cy="35.6" r="1.75" fill="#000"/>
<circle cx="506.0" cy="41.6" r="1.75" fill="#000"/>
<circle cx="505.8" cy="51.3" r="1.75" fill="#000"/>
<circle cx="504.8" cy="52.1" r="1.75" fill="#000"/>
<circle cx="503.7" cy="59.3" r="1.75" fill="#000"/>
<circle cx="515.1" cy="61.1" r="1.75" fill="#000"/>
<circle cx="528.8" cy="61.4" r="1.75" fill="#000"/>
<circle cx="552.1" cy="27.8" r="1.75" fill="#000"/>
<circle cx="556.3" cy="27.1" r="1.75" fill="#000"/>
<circle cx="569.5" cy="34.0" r="1.75" fill="#000"/>
<circle cx="545.4" cy="43.2" r="1.75" fill="#000"/>
<circle cx="558.2" cy="48.9" r="1.75" fill="#000"/>
<circle cx="541.4" cy="55.2" r="1.75" fill="#000"/>
<circle cx="545.4" cy="57.3" r="1.75" fill="#000"/>
<circle cx="551.1" cy="59.4" r="1.75" fill="#000"/>
<circle cx="540.6" cy="61.4" r="1.75" fill="#000"/>
<circle cx="541.9" cy="63.2" r="1.75" fill="#000"/>
<circle cx="555.8" cy="61.4" r="1.75" fill="#000"/>
<circle cx="556.9" cy="63.2" r="1.75" fill="#000"/>
<circle cx="560.0" cy="63.4" r="1.75" fill="#000"/>
<circle cx="562.7" cy="62.4" r="1.75" fill="#000"/>
<circle cx="563.7" cy="61.4" r="1.75" fill="#000"/>
<circle cx="567.4" cy="61.4" r="1.75" fill="#000"/>
<circle cx="549.5" cy="66.3" r="1.75" fill="#000"/>
<circle cx="527.7" cy="68.2" r="1.75" fill="#000"/>
<circle cx="529.8" cy="70.3" r="1.75" fill="#000"/>
<circle cx="535.1" cy="71.3" r="1.75" fill="#000"/>
<circle cx="542.1" cy="74.0" r="1.75" fill="#000"/>
<circle cx="581.1" cy="33.2" r="1.75" fill="#000"/>
<circle cx="576.3" cy="42.1" r="1.75" fill="#000"/>
<circle cx="572.9" cy="56.5" r="1.75" fill="#000"/>
<circle cx="581.8" cy="63.4" r="1.75" fill="#000"/>
<circle cx="585.5" cy="66.4" r="1.75" fill="#000"/>
<circle cx="584.2" cy="70.3" r="1.75" fill="#000"/>
<circle cx="594.8" cy="66.2" r="1.75" fill="#000"/>
<circle cx="606.9" cy="65.0" r="1.75" fill="#000"/>
<circle cx="541.2" cy="73.5" r="1.75" fill="#000"/>
<circle cx="529.8" cy="83.2" r="1.75" fill="#000"/>
<circle cx="538.2" cy="81.4" r="1.75" fill="#000"/>
<circle cx="555.8" cy="77.9" r="1.75" fill="#000"/>
<circle cx="557.4" cy="79.5" r="1.75" fill="#000"/>
<circle cx="558.5" cy="80.6" r="1.75" fill="#000"/>
<circle cx="535.1" cy="87.4" r="1.75" fill="#000"/>
<circle cx="541.2" cy="87.1" r="1.75" fill="#000"/>
<circle cx="536.9" cy="90.5" r="1.75" fill="#000"/>
<circle cx="555.8" cy="85.3" r="1.75" fill="#000"/>
<circle cx="556.9" cy="86.9" r="1.75" fill="#000"/>
<circle cx="557.9" cy="88.4" r="1.75" fill="#000"/>
<circle cx="552.3" cy="89.5" r="1.75" fill="#000"/>
<circle cx="544.9" cy="92.3" r="1.75" fill="#000"/>
<circle cx="545.3" cy="93.7" r="1.75" fill="#000"/>
<circle cx="535.8" cy="94.2" r="1.75" fill="#000"/>
<circle cx="534.2" cy="95.2" r="1.75" fill="#000"/>
<circle cx="533.2" cy="95.8" r="1.75" fill="#000"/>
<circle cx="526.3" cy="97.9" r="1.75" fill="#000"/>
<circle cx="543.5" cy="98.4" r="1.75" fill="#000"/>
<circle cx="537.9" cy="101.0" r="1.75" fill="#000"/>
<circle cx="540.6" cy="101.6" r="1.75" fill="#000"/>
<circle cx="542.3" cy="104.2" r="1.75" fill="#000"/>
<circle cx="549.5" cy="103.1" r="1.75" fill="#000"/>
<circle cx="551.1" cy="106.3" r="1.75" fill="#000"/>
<circle cx="552.1" cy="106.3" r="1.75" fill="#000"/>
<circle cx="561.6" cy="99.3" r="1.75" fill="#000"/>
<circle cx="562.4" cy="102.8" r="1.75" fill="#000"/>
<circle cx="537.9" cy="109.1" r="1.75" fill="#000"/>
<circle cx="561.8" cy="111.6" r="1.75" fill="#000"/>
<circle cx="547.7" cy="111.1" r="1.75" fill="#000"/>
<circle cx="559.0" cy="119.7" r="1.75" fill="#000"/>
<circle cx="554.8" cy="124.2" r="1.75" fill="#000"/>
<circle cx="555.8" cy="125.3" r="1.75" fill="#000"/>
<circle cx="575.5" cy="77.2" r="1.75" fill="#000"/>
<circle cx="584.5" cy="83.5" r="1.75" fill="#000"/>
<circle cx="583.4" cy="86.3" r="1.75" fill="#000"/>
<circle cx="577.8" cy="89.2" r="1.75" fill="#000"/>
<circle cx="586.8" cy="89.2" r="1.75" fill="#000"/>
<circle cx="583.4" cy="91.9" r="1.75" fill="#000"/>
<circle cx="587.4" cy="93.4" r="1.75" fill="#000"/>
<circle cx="600.2" cy="85.0" r="1.75" fill="#000"/>
<circle cx="596.6" cy="90.5" r="1.75" fill="#000"/>
<circle cx="597.1" cy="92.3" r="1.75" fill="#000"/>
<circle cx="588.4" cy="106.5" r="1.75" fill="#000"/>
<circle cx="612.9" cy="103.1" r="1.75" fill="#000"/>
<circle cx="614.5" cy="106.5" r="1.75" fill="#000"/>
<circle cx="616.0" cy="106.3" r="1.75" fill="#000"/>
<circle cx="621.3" cy="104.5" r="1.75" fill="#000"/>
<circle cx="574.5" cy="116.0" r="1.75" fill="#000"/>
<circle cx="586.6" cy="115.3" r="1.75" fill="#000"/>
<circle cx="593.4" cy="121.6" r="1.75" fill="#000"/>
<circle cx="610.8" cy="118.2" r="1.75" fill="#000"/>
<circle cx="623.9" cy="122.1" r="1.75" fill="#000"/>
<circle cx="623.4" cy="123.2" r="1.75" fill="#000"/>
<circle cx="575.3" cy="126.5" r="1.75" fill="#000"/>
<circle cx="531.9" cy="130.3" r="1.75" fill="#000"/>
<circle cx="564.8" cy="137.6" r="1.75" fill="#000"/>
<circle cx="564.2" cy="149.0" r="1.75" fill="#000"/>
<circle cx="561.6" cy="156.1" r="1.75" fill="#000"/>
<circle cx="562.1" cy="157.1" r="1.75" fill="#000"/>
<circle cx="560.8" cy="163.7" r="1.75" fill="#000"/>
<circle cx="565.6" cy="175.5" r="1.75" fill="#000"/>
<circle cx="587.6" cy="133.2" r="1.75" fill="#000"/>
<circle cx="588.7" cy="134.7" r="1.75" fill="#000"/>
<circle cx="604.2" cy="137.4" r="1.75" fill="#000"/>
<circle cx="576.3" cy="138.7" r="1.75" fill="#000"/>
<circle cx="584.2" cy="139.5" r="1.75" fill="#000"/>
<circle cx="575.8" cy="142.3" r="1.75" fill="#000"/>
<circle cx="579.7" cy="145.0" r="1.75" fill="#000"/>
<circle cx="586.6" cy="144.3" r="1.75" fill="#000"/>
<circle cx="596.6" cy="141.3" r="1.75" fill="#000"/>
<circle cx="598.1" cy="143.9" r="1.75" fill="#000"/>
<circle cx="603.7" cy="148.1" r="1.75" fill="#000"/>
<circle cx="608.4" cy="150.1" r="1.75" fill="#000"/>
<circle cx="630.5" cy="142.3" r="1.75" fill="#000"/>
<circle cx="581.3" cy="152.9" r="1.75" fill="#000"/>
<circle cx="583.1" cy="154.5" r="1.75" fill="#000"/>
<circle cx="584.5" cy="155.8" r="1.75" fill="#000"/>
<circle cx="597.4" cy="155.6" r="1.75" fill="#000"/>
<circle cx="600.5" cy="158.2" r="1.75" fill="#000"/>
<circle cx="612.3" cy="155.7" r="1.75" fill="#000"/>
<circle cx="620.2" cy="164.2" r="1.75" fill="#000"/>
<circle cx="576.6" cy="169.0" r="1.75" fill="#000"/>
<circle cx="588.7" cy="167.9" r="1.75" fill="#000"/>
<circle cx="584.5" cy="170.5" r="1.75" fill="#000"/>
<circle cx="610.8" cy="168.2" r="1.75" fill="#000"/>
<circle cx="609.7" cy="171.1" r="1.75" fill="#000"/>
<circle cx="585.8" cy="173.9" r="1.75" fill="#000"/>
<circle cx="589.7" cy="173.6" r="1.75" fill="#000"/>
<circle cx="588.1" cy="177.6" r="1.75" fill="#000"/>
<circle cx="582.9" cy="181.9" r="1.75" fill="#000"/>
<circle cx="575.3" cy="184.5" r="1.75" fill="#000"/>
<circle cx="603.4" cy="184.0" r="1.75" fill="#000"/>
<circle cx="584.2" cy="184.7" r="1.75" fill="#000"/>
<circle cx="596.3" cy="187.1" r="1.75" fill="#000"/>
<circle cx="600.5" cy="201.8" r="1.75" fill="#000"/>
<circle cx="531.6" cy="73.3" r="1.75" fill="#000"/></g>
<path d="M457.2 6.9L460.2 5.2" stroke="#f4f4f4" stroke-width="1.3" stroke-linecap="round"/>
<rect x="456.3" y="4.5" width="225.5" height="225.3" fill="none" stroke="#2a2a2a" stroke-width="0.85"/>
<path d="M456.30 229.5V232.5M531.47 229.5V232.5M606.63 229.5V232.5M681.80 229.5V232.5M456.3  210.75H453.3M456.3  173.25H453.3M456.3  135.75H453.3M456.3  98.25H453.3M456.3  60.75H453.3M456.3  23.25H453.3" stroke="#222" stroke-width="0.8" fill="none"/>
<text x="455.45" y="250.8" class="t">10</text>
<rect x="444.55" y="246" width="8.8" height="1" fill="#111" fill-opacity="0.85"/>
<text x="531.47" y="250.8" text-anchor="middle" class="t">0</text>
<text x="606.63" y="250.8" text-anchor="middle" class="t">10</text>
<text x="681.80" y="250.8" text-anchor="middle" class="t">20</text>
<text x="446.7" y="216.95" text-anchor="end" class="t">10</text>
<rect x="422.10" y="212" width="8.8" height="1" fill="#111" fill-opacity="0.85"/>
<text x="446.7" y="179.45" text-anchor="end" class="t">5</text>
<rect x="429.10" y="175" width="8.8" height="1" fill="#111" fill-opacity="0.85"/>
<text x="446.7" y="141.95" text-anchor="end" class="t">0</text>
<text x="446.7" y="104.45" text-anchor="end" class="t">5</text>
<text x="446.7" y="66.95" text-anchor="end" class="t">10</text>
<text x="446.7" y="29.45" text-anchor="end" class="t">15</text>
<text x="569.55" y="266.3" text-anchor="middle" class="l" textLength="47" lengthAdjust="spacing">X (kpc)</text>
<text transform="translate(415.0 117.1) rotate(-90)" text-anchor="middle" class="l" textLength="47.2" lengthAdjust="spacing">Y (kpc)</text>
<rect x="697.3" y="4.50" width="11.7" height="225.00" fill="#efe51c"/>
<rect x="697.3" y="15.75" width="11.7" height="213.75" fill="#cde11d"/>
<rect x="697.3" y="27.00" width="11.7" height="202.50" fill="#addc30"/>
<rect x="697.3" y="38.25" width="11.7" height="191.25" fill="#8bd646"/>
<rect x="697.3" y="49.50" width="11.7" height="180.00" fill="#6ccd5a"/>
<rect x="697.3" y="60.75" width="11.7" height="168.75" fill="#50c46a"/>
<rect x="697.3" y="72.00" width="11.7" height="157.50" fill="#38b977"/>
<rect x="697.3" y="83.25" width="11.7" height="146.25" fill="#28ae80"/>
<rect x="697.3" y="94.50" width="11.7" height="135.00" fill="#1fa287"/>
<rect x="697.3" y="105.75" width="11.7" height="123.75" fill="#1f968b"/>
<rect x="697.3" y="117.00" width="11.7" height="112.50" fill="#238a8d"/>
<rect x="697.3" y="128.25" width="11.7" height="101.25" fill="#277e8e"/>
<rect x="697.3" y="139.50" width="11.7" height="90.00" fill="#2c728e"/>
<rect x="697.3" y="150.75" width="11.7" height="78.75" fill="#31668e"/>
<rect x="697.3" y="162.00" width="11.7" height="67.50" fill="#38598c"/>
<rect x="697.3" y="173.25" width="11.7" height="56.25" fill="#3e4a89"/>
<rect x="697.3" y="184.50" width="11.7" height="45.00" fill="#443b84"/>
<rect x="697.3" y="195.75" width="11.7" height="33.75" fill="#472d7b"/>
<rect x="697.3" y="207.00" width="11.7" height="22.50" fill="#481c6e"/>
<rect x="697.3" y="218.25" width="11.7" height="11.25" fill="#460a5d"/>
<rect x="697.3" y="4.5" width="11.7" height="225" fill="none" stroke="#222" stroke-width="0.8"/>
<text x="718.8" y="234.90" class="t">0.10</text>
<text x="718.8" y="189.90" class="t">0.14</text>
<text x="718.8" y="144.90" class="t">0.18</text>
<text x="718.8" y="99.90" class="t">0.22</text>
<text x="718.8" y="54.90" class="t">0.26</text>
<text x="718.8" y="9.90" class="t">0.30</text>
<path d="M709.0 229.50h3M709.0 184.50h3M709.0 139.50h3M709.0 94.50h3M709.0 49.50h3M709.0 4.50h3" stroke="#222" stroke-width="0.8" fill="none"/>
<text transform="translate(757.4 119.2) rotate(-90)" text-anchor="middle" class="l" textLength="189.1" lengthAdjust="spacing">12 + log(O/H) Std. Dev. (dex)</text>
<clipPath id="cp2"><rect x="51.5" y="306.0" width="225.5" height="225"/></clipPath>
<clipPath id="cc2"><ellipse cx="126.67" cy="437.25" rx="150.33" ry="150.00"/></clipPath>
<g clip-path="url(#cp2)"><g clip-path="url(#cc2)" stroke="#555" stroke-opacity="0.85" stroke-width="0.7">
<path d="M49.6 534.8l231.2 0l0-232.6l-1.9 0l-231.2 0l0 232.6z" fill="#460a5d"/>
<path d="M49.6 534.8l231.2 0l0-232.6l-1.9 0l-231.2 0l0 232.6z" fill="#481c6e"/>
<path d="M49.6 534.8l231.2 0l0-232.6l-1.9 0l-231.2 0l0 232.6zM150 441l-2.7-1.7l-1.8-2.1l-2.9-5.6l-0.3-1.8l0.2-1.9l1.1-2.2l2.6-3.5l0.2-1.8l-0.9-1.9l-1.9-1.5l-1.9-0.3l-11.3 2l-11.2-0.9l-5.7-1l-3.7-1.3l-3.7-2.6l-2.4-3.8l-1-3.7l-0.2-1.9l1.1-5.6l0.5-1.9l1.2-1.9l12-11.2l4.6-5.7l3.8-3.7l4.7-3.8l5.7-3.6l7.5-3.2l7.5-2.2l5.6-0.7l3.8 0.5l3.7 1.7l2.4 1.9l3.3 3.6l3.7 6.1l2.7 7.2l0.3 11.2l-1.1 6.4l-1.9 4.1l-8.4 13.9l-2 3.8l-1.3 3.7l-0.4 3.8l2.7 9.3l-0.3 1.9l-1.5 1.7l-1.9 0.7l-5.6 0.4l-3.8-0.5z" fill="#472d7b"/>
<path d="M49.6 534.8l231.2 0l0-232.6l-1.9 0l-231.2 0l0 232.6zM166.6 480.4l-2.4-1.1l-3.7-1l-11.3-0.8l-5.6-0.8l-5.7-2.1l-5.8-3.6l-14.5-13.1l-3.4-3.8l-5.4-7.5l-5.4-5.6l-4.1-3.8l-8.3-5.9l-3.6-3.4l-6.4-7.5l-2.9-5.6l-1-3.8l-0.7-5.6l0-7.5l-0.9-13.1l1.4-5.7l2.8-5.5l5.6-7.3l5.7-5.8l5.6-4.1l9.4-4.7l5.6-3.5l5.7-4.7l5.6-6.6l3.8-3.7l3.7-2.8l5.7-3.3l3.7-1.4l3.8-0.8l3.7-0.1l7.6 1.9l9.3 4.3l9.4 6.4l3.8 3.3l5.6 6.4l4.3 5.8l3.2 5.6l2.2 5.6l1.9 7.5l1.5 18.8l-0.6 9.4l-3.2 16.8l0.2 3.8l2.2 7.5l1.4 7.5l0 3.7l-1 5.7l-1.7 5.6l-6.6 16.6l-2.7 5.9l-2.9 4.7l-2.9 2.8l-2.8 1.3l-3.7 0.4l-3.8-1.1z" fill="#443b84"/>
<path d="M49.6 534.8l231.2 0l0-232.6l-131.3 0l1.3 1.9l3.9 3.8l10.9 7.5l8 3.2l13.2 4.2l5.6 2.8l3.7 2.9l3.9 3.7l2.8 3.8l2 3.8l2.3 5.6l1.6 5.6l2.1 9.4l0.6 5.6l0.5 18.8l-0.3 11.2l-0.4 3.8l-2.2 9.3l-0.9 7.5l0.3 3.8l2.8 11.1l0.6 5.7l-1.2 3.8l-1.9 3.8l-6.9 11.2l-5.5 11.2l-4.3 7.6l-1.5 3.7l-1.8 2.3l-3.8 2.3l-3.7 2.9l-3.8 2l-3.8 0.7l-5-0.8l-4.4-1.5l-11.2-0.9l-15.1 0.4l-5.6-1l-8.4-2.7l-10.4-4.5l-12.1-6.7l-8.1-5.6l-4.2-3.8l-4.6-5.6l-9.3-16.9l-12.8-18.7l-2-3.8l-2.6-7.5l-0.7-3.7l-0.3-3.8l0.5-5.6l2.5-9.4l0.9-7.5l1.9-5.6l4.7-7.5l4.7-5.6l7.7-7.9l7.5-10.5l3.8-3.1l7.5-3.9l1.9-1.5l6.1-6.9l9.5-13.1l1.3-1.4l7.5-4.5l1.9-1.6l2.7-3.8l-81.7 0l0 232.6z" fill="#3e4a89"/>
<path d="M49.6 534.8l231.2 0l0-232.6l-84.7 0l2.3 1.9l3.4 1.9l9.4 3.7l3.8 1.9l5.6 4.3l5.5 5.1l3.3 3.8l2.1 3.7l2.8 7.5l0.8 3.8l-0.2 5.6l-2.8 11.2l-3.6 35.6l-4.5 22.6l0.3 5.6l2.8 7.5l2 7.5l-0.3 3.7l-2.2 5.7l-1.2 1.8l-19.8 19.2l-7 9l-3.2 5.6l-1.7 1.8l-2.5 1.9l-6.3 3l-3.9 2.7l-3.6 1.5l-3.8 0.6l-9.4-0.7l-15 2l-11.3 0.7l-7.5-0.1l-7.5-1l-9.8-3l-20.7-9.4l-7.4-3.8l-6.2-3.7l-4.9-3.8l-4.9-5.6l-3.5-5.6l-4.7-9.4l-5.5-7.7l-3.8-3.5l-3.8-2l0 99.5zM48.9 364.1l13.9-10.7l7.5-6.7l3.8-4.4l4.7-8.2l8.4-7.5l3.6-3.7l2.8-3.8l4.2-7.5l2.8-7.5l0.4-1.9l-0.6 0l-52.7 0l0 62.7z" fill="#38598c"/>
<path d="M49.6 534.8l231.2 0l0-211.8l-3.8 1.8l-1.7 1.8l-0.8 1.9l-0.2 3.7l2.2 7.6l0.5 3.7l-1 3.7l-2.1 3.8l-5.7 7.5l-13.8 15.7l-2.7 4.9l-1.4 3.8l-4.2 15l-4.3 9.3l-1.7 5.7l-0.6 3.7l0 3.8l1.8 11.2l0.1 3.8l-0.4 3.7l-1 3.8l-2.5 5.2l-3.9 6l-3.6 3.6l-5.2 3.9l-3.8 3.8l-2.3 1.4l-5.6 2.4l-3.7 2.4l-5.7 4.6l-7.4 7.9l-2.8 1.9l-6.7 2.8l-4.9 2.8l-4.5 1.7l-11.3 1.2l-2.7 0.9l-3.1 1.8l-3.6 4.6l-1.8 0.3l-3.8-1.1l-1.9-0.1l-22.5 1.2l-3.8-0.4l-7.5-1.9l-7.5-2.6l-30.1-12.2l-5.8-2.8l-16.7-9.1l-7.6-3.2l0 64.9zM49.6 340.2l3.8-1.2l1.9-1l5.6-3.9l3.8-3.4l14.9-15.3l3.1-3.8l2.6-4.2l1.5-5.2l-1.5 0l-37.6 0l0 38.3z" fill="#31668e"/>
<path d="M49.6 534.8l231.2 0l0-155.2l-3.8 1.4l-1.9 1.2l-9.4 10.1l-3.6 5.6l-7.1 9.3l-4.1 7.6l-1.4 5.6l-0.3 16.8l-1.4 5.7l-3.9 9.3l-3.2 5.7l-3 3.7l-12.7 9.4l-17.5 7.9l-3.8 2.3l-5.8 4.8l-3.3 1.9l-5.9 2.2l-6.8 3.4l-4.5 1.4l-7.5 1.3l-2.8 1l-3.7 3.8l-2.9 4.4l-1.9 1.5l-3.7 0.9l-7.6-0.1l-5.6 0.3l-13.2 1.9l-7.5-0.4l-11.2-3.1l-35.1-12.9l-16.2-7.5l-5.1-1.5l-5.7-1.2l0 51.5zM49.6 319.5l3.5-2.3l4-5.9l6.2-5.3l2.2-3.8l-0.8 0l-17 0l0 17.9z" fill="#2c728e"/>
<path d="M49.6 534.8l231.2 0l0-136.3l-5.7 2l-3.7 2l-4.5 2.9l-3.1 3l-3.1 4.5l-2.5 5.6l-0.8 3.7l-0.7 11.3l-0.9 5.6l-1.9 5.7l-3.2 7.2l-4.1 7.8l-4 5.6l-3.2 3l-6.8 4.5l-6.3 3l-11.3 3.9l-7.5 3l-8.3 5.1l-8.6 3.3l-4.7 2.3l-8.5 2.9l-7.5 2l-3 2.6l-4.5 7l-1.9 1.8l-5.6 3.9l-5.7 0.1l-16.9 3.1l-9.4 0.3l-11.3-2.2l-33.8-11.7l-20.7-8.2l-5.6-1.6l-3.8-0.6l0 41.9z" fill="#277e8e"/>
<path d="M49.6 534.8l231.2 0l0-127.3l-5.7 1.9l-3.7 2.1l-3 3.3l-2.2 3.7l-1.5 5.6l-1.3 11.3l-0.8 3.7l-1.3 3.8l-7.3 15l-3.3 5.9l-4.2 5.3l-4.2 3.8l-4.8 2.9l-11.7 4.6l-14.6 4.1l-11.2 5.1l-7.6 2.6l-5.6 2.6l-3.8 0.8l-3.7 1.6l-7.5 2.4l-1.9 1.4l-1.6 1.9l-5.9 8.9l-3.8 4.4l-1.9 1.4l-1.8 0.8l-5.7 1.1l-11.3 3.4l-9.4 2.2l-7.5 0.3l-5.6-0.8l-58.3-19.8l-5.6-1.4l-3.8-0.5l0 31.9z" fill="#238a8d"/>
<path d="M49.6 534.8l57.5 0l-6.7-3.8l-7.6-3.6l-5.6-2.3l-15-5.2l-16.9-4.5l-7.6-1.2l0 20.6zM134.2 534.8l146.6 0l0-118.4l-3.8 2.1l-2.7 3.7l-1.3 3.8l-1.4 9.4l-1.8 5.6l-7.8 14.5l-4.5 9.9l-2.6 3.7l-3.4 3.8l-5.7 3.7l-8.3 3.9l-11.2 3.6l-15.1 3.4l-16.9 5.5l-5.6 2.6l-5.7 1l-3.7 1.9l-5.7 2l-2.9 2.4l-10.1 15l-2 1.7l-5.6 3.8l-11.3 5.7l-8.2 5.7z" fill="#1f968b"/>
<path d="M49.6 534.8l15.6 0l-3.7-1.9l-6.2-1.4l-7.6-0.7l0 4zM147.3 534.8l133.5 0l0-90.5l-3.8 3l-5.6 7.1l-1.9 3.3l-3.5 7.7l-2.5 3.7l-3.2 3.8l-4.8 3.7l-11.5 5.6l-6.5 2.4l-9.4 2.7l-11.2 1.8l-18.8 4.1l-3.8 1.2l-3.7 1.8l-6.4 1l-8.7 4.1l-2.4 1.6l-1.7 1.9l-4 5.6l-5 8.5l-1.9 2.2l-5.6 6l-9 7.7z" fill="#1fa287"/>
<path d="M156.7 534.8l124.1 0l0-70.3l-9.4 8.4l-8.9 5.6l-19.3 8.3l-7.5 2.3l-5.7 1.3l-26.3 3.1l-5.6 1.1l-3.8 1.1l-3 1.5l-6.4 0.8l-9.3 4.9l-2.1 1.9l-4.5 5.6l-6.3 11.2l-5.5 7.5l-0.5 1.9l-0.1 3.8z" fill="#28ae80"/>
<path d="M158.6 534.8l122.2 0l0-57l-5.7 1.5l-16.9 5.7l-15 5.8l-7.5 2.4l-11.3 1.4l-20.7 0.3l-7.5 1.3l-3.8 1.7l-5.6 0.6l-2.3 0.6l-9 5.6l-4.8 5.7l-2.3 3.7l-4.2 8.5l-2.8 4.6l-1.6 3.8l-0.4 1.9l-1.2 1.9z" fill="#38b977"/>
<path d="M160.5 534.8l120.3 0l0-50.8l-0.5 0.1l-20.2 4.5l-16.9 6.7l-7.5 2l-9.4 0.6l-22.6-1.7l-5.6 0.7l-5.7 1.9l-5.6 0.4l-1.9 0.8l-7.3 4.8l-5.8 6.3l-2 3l-8.7 18.8l-1.9 1.9z" fill="#50c46a"/>
<path d="M160.5 534.8l120.3 0l0-45.9l-3.8 0.5l-15 2.8l-3.8 1.3l-13.1 5.9l-7.6 1.9l-9.4-0.3l-24.4-3.5l-5.6 0.4l-5.7 1.7l-5.6 0.6l-3.8 1.9l-3.5 2.7l-3.9 3.7l-3.2 3.7l-8.9 18.8l-1.3 1.9l-2.3 1.9z" fill="#6ccd5a"/>
<path d="M162.4 534.8l118.4 0l0-41.7l-5.7 0.7l-11.3 2.4l-5.6 2.1l-7.5 3.7l-5.6 2.3l-3.8 0.8l-5.6-0.4l-9.4-1.7l-9.4-2.1l-15.1-2.4l-3.7 0.3l-3.8 1.1l-7.3 1.1l-3.4 1.9l-2.5 1.9l-7.1 7.4l-1.2 1.9l-4.9 11.3l-3 5.6l-1.8 1.9l-2.4 1.9z" fill="#8bd646"/>
<path d="M162.4 534.8l118.4 0l0-37.9l-5.7 0.7l-13.1 4.3l-11.3 5.1l-3.8 1.1l-3.7 0.4l-5.7-0.5l-15-3.8l-5.6-1.9l-15.1-2.7l-3.7 0.2l-3.8 0.9l-5.6 0.6l-3.3 1.6l-2.7 1.9l-6.9 7.4l-3.4 5.7l-2.9 7.5l-3.4 5.6l-4.7 3.8z" fill="#addc30"/>
<path d="M162.4 534.8l118.4 0l0-34.5l-5.7 0.7l-3.7 1.4l-15.1 6.8l-5.6 1.8l-5.6 0.7l-3.8-0.2l-3.8-0.7l-16.9-5.2l-5.6-2.2l-13.2-2.7l-3.7 0l-9.4 1.6l-4.4 2.5l-2.9 3.7l-4 3.9l-3.4 5.5l-2.8 7.5l-1.1 1.8l-2.9 3.8l-3 2.6l-2.1 1.2z" fill="#cde11d"/>
<path d="M164.2 534.8l116.6 0l0-31.1l-5.7 0.7l-5.2 2.2l-9.8 6l-5.7 1.4l-9.3 0.9l-7.6-1.3l-3.7-1.6l-13.2-4.3l-5.6-2.7l-11.3-2.7l-5.6-0.7l-7.5 1l-4.6 2.2l-3 4.2l-5 5.1l-2.4 3.8l-1.3 3.7l-0.6 3.8l-1 1.8l-9 7.6z" fill="#efe51c"/>
<path d="M168 534.8l112.8 0l0-27.6l-3.8 0.5l-2.6 0.8l-3.6 1.9l-2.5 1.8l-2.6 3.2l-3.7 1.9l-7.6 1.4l-9.3 0.2l-3.8-0.6l-3.8-1.2l-4.8-3l-10.2-3.4l-9.4-4.4l-13.1-3.7l-7.6 0.4l-4.4 1.8l-1.7 1.8l-1.8 3.8l-5.2 4.7l-1.9 2.8l-0.6 1.9l-1.3 7.5l-1.2 1.8l-2.5 0.9l-4 2.9l-0.5 1.9z" fill="#ffffff"/>
</g></g>
<g clip-path="url(#cp2)" fill="none" stroke="#000" stroke-width="1.1" stroke-dasharray="3.1 1.6">
<ellipse cx="126.67" cy="437.25" rx="30.07" ry="30.00"/>
<ellipse cx="126.67" cy="437.25" rx="60.13" ry="60.00"/>
<ellipse cx="126.67" cy="437.25" rx="90.20" ry="90.00"/>
<ellipse cx="126.67" cy="437.25" rx="120.27" ry="120.00"/>
<ellipse cx="126.67" cy="437.25" rx="150.33" ry="150.00"/>
</g>
<line x1="51.5" y1="437.25" x2="277.0" y2="437.25" stroke="#000" stroke-width="1.5"/>
<line x1="126.67" y1="306.0" x2="126.67" y2="531.0" stroke="#000" stroke-width="1.5"/>
<g clip-path="url(#cp2)"><path d="M118.4 374.9H135.0M126.7 366.5V383.3" stroke="#f00" stroke-width="1.7" fill="none"/><circle cx="89.2" cy="331.3" r="1.75" fill="#000"/>
<circle cx="99.6" cy="333.1" r="1.75" fill="#000"/>
<circle cx="115.4" cy="337.1" r="1.75" fill="#000"/>
<circle cx="101.2" cy="343.1" r="1.75" fill="#000"/>
<circle cx="101.0" cy="352.8" r="1.75" fill="#000"/>
<circle cx="100.0" cy="353.6" r="1.75" fill="#000"/>
<circle cx="98.9" cy="360.8" r="1.75" fill="#000"/>
<circle cx="110.3" cy="362.6" r="1.75" fill="#000"/>
<circle cx="124.0" cy="362.9" r="1.75" fill="#000"/>
<circle cx="147.3" cy="329.3" r="1.75" fill="#000"/>
<circle cx="151.5" cy="328.6" r="1.75" fill="#000"/>
<circle cx="164.7" cy="335.5" r="1.75" fill="#000"/>
<circle cx="140.6" cy="344.7" r="1.75" fill="#000"/>
<circle cx="153.4" cy="350.4" r="1.75" fill="#000"/>
<circle cx="136.6" cy="356.7" r="1.75" fill="#000"/>
<circle cx="140.6" cy="358.8" r="1.75" fill="#000"/>
<circle cx="146.3" cy="360.9" r="1.75" fill="#000"/>
<circle cx="135.8" cy="362.9" r="1.75" fill="#000"/>
<circle cx="137.1" cy="364.7" r="1.75" fill="#000"/>
<circle cx="151.0" cy="362.9" r="1.75" fill="#000"/>
<circle cx="152.1" cy="364.7" r="1.75" fill="#000"/>
<circle cx="155.2" cy="364.9" r="1.75" fill="#000"/>
<circle cx="157.9" cy="363.9" r="1.75" fill="#000"/>
<circle cx="158.9" cy="362.9" r="1.75" fill="#000"/>
<circle cx="162.6" cy="362.9" r="1.75" fill="#000"/>
<circle cx="144.7" cy="367.8" r="1.75" fill="#000"/>
<circle cx="122.9" cy="369.7" r="1.75" fill="#000"/>
<circle cx="125.0" cy="371.8" r="1.75" fill="#000"/>
<circle cx="130.3" cy="372.8" r="1.75" fill="#000"/>
<circle cx="137.3" cy="375.4" r="1.75" fill="#000"/>
<circle cx="176.3" cy="334.7" r="1.75" fill="#000"/>
<circle cx="171.5" cy="343.6" r="1.75" fill="#000"/>
<circle cx="168.1" cy="358.1" r="1.75" fill="#000"/>
<circle cx="177.0" cy="364.9" r="1.75" fill="#000"/>
<circle cx="180.7" cy="367.9" r="1.75" fill="#000"/>
<circle cx="179.4" cy="371.8" r="1.75" fill="#000"/>
<circle cx="190.0" cy="367.7" r="1.75" fill="#000"/>
<circle cx="202.1" cy="366.5" r="1.75" fill="#000"/>
<circle cx="136.4" cy="375.0" r="1.75" fill="#000"/>
<circle cx="125.0" cy="384.7" r="1.75" fill="#000"/>
<circle cx="133.4" cy="382.9" r="1.75" fill="#000"/>
<circle cx="151.0" cy="379.4" r="1.75" fill="#000"/>
<circle cx="152.6" cy="381.0" r="1.75" fill="#000"/>
<circle cx="153.7" cy="382.1" r="1.75" fill="#000"/>
<circle cx="130.3" cy="388.9" r="1.75" fill="#000"/>
<circle cx="136.4" cy="388.6" r="1.75" fill="#000"/>
<circle cx="132.1" cy="392.0" r="1.75" fill="#000"/>
<circle cx="151.0" cy="386.8" r="1.75" fill="#000"/>
<circle cx="152.1" cy="388.4" r="1.75" fill="#000"/>
<circle cx="153.1" cy="389.9" r="1.75" fill="#000"/>
<circle cx="147.5" cy="391.0" r="1.75" fill="#000"/>
<circle cx="140.1" cy="393.8" r="1.75" fill="#000"/>
<circle cx="140.5" cy="395.2" r="1.75" fill="#000"/>
<circle cx="131.0" cy="395.7" r="1.75" fill="#000"/>
<circle cx="129.4" cy="396.8" r="1.75" fill="#000"/>
<circle cx="128.4" cy="397.3" r="1.75" fill="#000"/>
<circle cx="121.5" cy="399.4" r="1.75" fill="#000"/>
<circle cx="138.7" cy="399.9" r="1.75" fill="#000"/>
<circle cx="133.1" cy="402.5" r="1.75" fill="#000"/>
<circle cx="135.8" cy="403.1" r="1.75" fill="#000"/>
<circle cx="137.5" cy="405.7" r="1.75" fill="#000"/>
<circle cx="144.7" cy="404.6" r="1.75" fill="#000"/>
<circle cx="146.3" cy="407.9" r="1.75" fill="#000"/>
<circle cx="147.3" cy="407.9" r="1.75" fill="#000"/>
<circle cx="156.8" cy="400.8" r="1.75" fill="#000"/>
<circle cx="157.6" cy="404.3" r="1.75" fill="#000"/>
<circle cx="133.1" cy="410.6" r="1.75" fill="#000"/>
<circle cx="157.0" cy="413.1" r="1.75" fill="#000"/>
<circle cx="142.9" cy="412.6" r="1.75" fill="#000"/>
<circle cx="154.2" cy="421.2" r="1.75" fill="#000"/>
<circle cx="150.0" cy="425.7" r="1.75" fill="#000"/>
<circle cx="151.0" cy="426.8" r="1.75" fill="#000"/>
<circle cx="170.7" cy="378.7" r="1.75" fill="#000"/>
<circle cx="179.7" cy="385.0" r="1.75" fill="#000"/>
<circle cx="178.6" cy="387.8" r="1.75" fill="#000"/>
<circle cx="173.0" cy="390.8" r="1.75" fill="#000"/>
<circle cx="182.0" cy="390.7" r="1.75" fill="#000"/>
<circle cx="178.6" cy="393.4" r="1.75" fill="#000"/>
<circle cx="182.6" cy="394.9" r="1.75" fill="#000"/>
<circle cx="195.4" cy="386.6" r="1.75" fill="#000"/>
<circle cx="191.8" cy="392.0" r="1.75" fill="#000"/>
<circle cx="192.3" cy="393.8" r="1.75" fill="#000"/>
<circle cx="183.6" cy="408.0" r="1.75" fill="#000"/>
<circle cx="208.1" cy="404.6" r="1.75" fill="#000"/>
<circle cx="209.7" cy="408.0" r="1.75" fill="#000"/>
<circle cx="211.2" cy="407.9" r="1.75" fill="#000"/>
<circle cx="216.5" cy="406.1" r="1.75" fill="#000"/>
<circle cx="169.7" cy="417.5" r="1.75" fill="#000"/>
<circle cx="181.8" cy="416.8" r="1.75" fill="#000"/>
<circle cx="188.6" cy="423.1" r="1.75" fill="#000"/>
<circle cx="206.0" cy="419.7" r="1.75" fill="#000"/>
<circle cx="219.1" cy="423.6" r="1.75" fill="#000"/>
<circle cx="218.6" cy="424.6" r="1.75" fill="#000"/>
<circle cx="170.5" cy="428.0" r="1.75" fill="#000"/>
<circle cx="127.1" cy="431.8" r="1.75" fill="#000"/>
<circle cx="160.0" cy="439.1" r="1.75" fill="#000"/>
<circle cx="159.4" cy="450.5" r="1.75" fill="#000"/>
<circle cx="156.8" cy="457.6" r="1.75" fill="#000"/>
<circle cx="157.3" cy="458.6" r="1.75" fill="#000"/>
<circle cx="156.0" cy="465.2" r="1.75" fill="#000"/>
<circle cx="160.8" cy="477.0" r="1.75" fill="#000"/>
<circle cx="182.8" cy="434.7" r="1.75" fill="#000"/>
<circle cx="183.9" cy="436.2" r="1.75" fill="#000"/>
<circle cx="199.4" cy="438.9" r="1.75" fill="#000"/>
<circle cx="171.5" cy="440.2" r="1.75" fill="#000"/>
<circle cx="179.4" cy="441.0" r="1.75" fill="#000"/>
<circle cx="171.0" cy="443.9" r="1.75" fill="#000"/>
<circle cx="174.9" cy="446.5" r="1.75" fill="#000"/>
<circle cx="181.8" cy="445.8" r="1.75" fill="#000"/>
<circle cx="191.8" cy="442.8" r="1.75" fill="#000"/>
<circle cx="193.3" cy="445.4" r="1.75" fill="#000"/>
<circle cx="198.9" cy="449.6" r="1.75" fill="#000"/>
<circle cx="203.6" cy="451.6" r="1.75" fill="#000"/>
<circle cx="225.7" cy="443.9" r="1.75" fill="#000"/>
<circle cx="176.5" cy="454.4" r="1.75" fill="#000"/>
<circle cx="178.3" cy="456.0" r="1.75" fill="#000"/>
<circle cx="179.7" cy="457.3" r="1.75" fill="#000"/>
<circle cx="192.6" cy="457.1" r="1.75" fill="#000"/>
<circle cx="195.7" cy="459.7" r="1.75" fill="#000"/>
<circle cx="207.5" cy="457.2" r="1.75" fill="#000"/>
<circle cx="215.4" cy="465.7" r="1.75" fill="#000"/>
<circle cx="171.8" cy="470.5" r="1.75" fill="#000"/>
<circle cx="183.9" cy="469.4" r="1.75" fill="#000"/>
<circle cx="179.7" cy="472.0" r="1.75" fill="#000"/>
<circle cx="206.0" cy="469.6" r="1.75" fill="#000"/>
<circle cx="204.9" cy="472.6" r="1.75" fill="#000"/>
<circle cx="181.0" cy="475.4" r="1.75" fill="#000"/>
<circle cx="184.9" cy="475.1" r="1.75" fill="#000"/>
<circle cx="183.3" cy="479.1" r="1.75" fill="#000"/>
<circle cx="178.1" cy="483.4" r="1.75" fill="#000"/>
<circle cx="170.5" cy="486.0" r="1.75" fill="#000"/>
<circle cx="198.6" cy="485.5" r="1.75" fill="#000"/>
<circle cx="179.4" cy="486.1" r="1.75" fill="#000"/>
<circle cx="191.5" cy="488.6" r="1.75" fill="#000"/>
<circle cx="195.7" cy="503.3" r="1.75" fill="#000"/>
<circle cx="126.8" cy="374.8" r="1.75" fill="#000"/></g>
<path d="M52.4 308.4L55.4 306.7" stroke="#f4f4f4" stroke-width="1.3" stroke-linecap="round"/>
<rect x="51.5" y="306.0" width="225.5" height="225.3" fill="none" stroke="#2a2a2a" stroke-width="0.85"/>
<path d="M51.50 531.0V534.0M126.67 531.0V534.0M201.83 531.0V534.0M277.00 531.0V534.0M51.5  512.25H48.5M51.5  474.75H48.5M51.5  437.25H48.5M51.5  399.75H48.5M51.5  362.25H48.5M51.5  324.75H48.5" stroke="#222" stroke-width="0.8" fill="none"/>
<text x="50.65" y="552.3" class="t">10</text>
<rect x="39.75" y="547" width="8.8" height="1" fill="#111" fill-opacity="0.85"/>
<text x="126.67" y="552.3" text-anchor="middle" class="t">0</text>
<text x="201.83" y="552.3" text-anchor="middle" class="t">10</text>
<text x="277.00" y="552.3" text-anchor="middle" class="t">20</text>
<text x="41.9" y="518.45" text-anchor="end" class="t">10</text>
<rect x="17.30" y="514" width="8.8" height="1" fill="#111" fill-opacity="0.85"/>
<text x="41.9" y="480.95" text-anchor="end" class="t">5</text>
<rect x="24.30" y="476" width="8.8" height="1" fill="#111" fill-opacity="0.85"/>
<text x="41.9" y="443.45" text-anchor="end" class="t">0</text>
<text x="41.9" y="405.95" text-anchor="end" class="t">5</text>
<text x="41.9" y="368.45" text-anchor="end" class="t">10</text>
<text x="41.9" y="330.95" text-anchor="end" class="t">15</text>
<text x="164.75" y="567.8" text-anchor="middle" class="l" textLength="47" lengthAdjust="spacing">X (kpc)</text>
<text transform="translate(10.2 418.6) rotate(-90)" text-anchor="middle" class="l" textLength="47.2" lengthAdjust="spacing">Y (kpc)</text>
<rect x="293.0" y="306.00" width="11.7" height="225.00" fill="#efe51c"/>
<rect x="293.0" y="317.25" width="11.7" height="213.75" fill="#cde11d"/>
<rect x="293.0" y="328.50" width="11.7" height="202.50" fill="#addc30"/>
<rect x="293.0" y="339.75" width="11.7" height="191.25" fill="#8bd646"/>
<rect x="293.0" y="351.00" width="11.7" height="180.00" fill="#6ccd5a"/>
<rect x="293.0" y="362.25" width="11.7" height="168.75" fill="#50c46a"/>
<rect x="293.0" y="373.50" width="11.7" height="157.50" fill="#38b977"/>
<rect x="293.0" y="384.75" width="11.7" height="146.25" fill="#28ae80"/>
<rect x="293.0" y="396.00" width="11.7" height="135.00" fill="#1fa287"/>
<rect x="293.0" y="407.25" width="11.7" height="123.75" fill="#1f968b"/>
<rect x="293.0" y="418.50" width="11.7" height="112.50" fill="#238a8d"/>
<rect x="293.0" y="429.75" width="11.7" height="101.25" fill="#277e8e"/>
<rect x="293.0" y="441.00" width="11.7" height="90.00" fill="#2c728e"/>
<rect x="293.0" y="452.25" width="11.7" height="78.75" fill="#31668e"/>
<rect x="293.0" y="463.50" width="11.7" height="67.50" fill="#38598c"/>
<rect x="293.0" y="474.75" width="11.7" height="56.25" fill="#3e4a89"/>
<rect x="293.0" y="486.00" width="11.7" height="45.00" fill="#443b84"/>
<rect x="293.0" y="497.25" width="11.7" height="33.75" fill="#472d7b"/>
<rect x="293.0" y="508.50" width="11.7" height="22.50" fill="#481c6e"/>
<rect x="293.0" y="519.75" width="11.7" height="11.25" fill="#460a5d"/>
<rect x="293.0" y="306.0" width="11.7" height="225" fill="none" stroke="#222" stroke-width="0.8"/>
<text x="314.5" y="536.40" class="t">0.00</text>
<text x="314.5" y="491.40" class="t">0.08</text>
<text x="314.5" y="446.40" class="t">0.16</text>
<text x="314.5" y="401.40" class="t">0.24</text>
<text x="314.5" y="356.40" class="t">0.32</text>
<text x="314.5" y="311.40" class="t">0.40</text>
<path d="M304.7 531.00h3M304.7 486.00h3M304.7 441.00h3M304.7 396.00h3M304.7 351.00h3M304.7 306.00h3" stroke="#222" stroke-width="0.8" fill="none"/>
<text transform="translate(353.6 419.8) rotate(-90)" text-anchor="middle" class="l" textLength="162.4" lengthAdjust="spacing">Negative Uncertainty (dex)</text>
<clipPath id="cp3"><rect x="456.3" y="306.0" width="225.5" height="225"/></clipPath>
<clipPath id="cc3"><ellipse cx="531.47" cy="437.25" rx="150.33" ry="150.00"/></clipPath>
<g clip-path="url(#cp3)"><g clip-path="url(#cc3)" stroke="#555" stroke-opacity="0.85" stroke-width="0.7">
<path d="M454.4 534.8l231.2 0l0-232.6l-1.9 0l-231.2 0l0 232.6z" fill="#460a5d"/>
<path d="M454.4 534.8l231.2 0l0-232.6l-1.9 0l-231.2 0l0 232.6z" fill="#481c6e"/>
<path d="M454.4 534.8l231.2 0l0-232.6l-1.9 0l-231.2 0l0 232.6zM550.3 456l-3.8-1.5l-5.6-3.5l-17.3-13.8l-5.7-5.6l-3.3-2.6l-1.9-2l-1.9-2.9l-1.5-3.7l-0.4-3.8l0.7-3.7l2.2-5.7l10.3-15.1l5.6-7l15-16.6l3.8-3.5l3.8-2.8l5.6-2.2l5.6-0.6l3.8 0.7l3.7 2.1l5.6 5.7l3.8 6l1.9 4.6l1.3 4.4l0.8 3.7l0.3 3.8l-0.7 9.4l-2 13.1l-0.6 11.2l0.1 3.8l2 7.5l0.8 5.6l0.2 7.5l-0.6 3.7l-1.6 2.1l-1.9 1.5l-1.8 0.7l-1.9 0.2l-7.5-0.8l-11.3 0.8l-5.6-0.7z" fill="#472d7b"/>
<path d="M454.4 534.8l231.2 0l0-232.6l-1.9 0l-231.2 0l0 232.6zM513.2 482.2l-6.2-1.7l-5.1-2l-13.7-6.9l-3.7-3l-3.8-6l-1.2-2.8l-0.7-3.8l0-2.2l1.4-5.3l4.2-11.3l1.3-24.3l2.3-9.4l3-5.6l10.4-13.1l11.3-18.2l13.8-17.5l6.8-7.4l3.8-3.2l5.6-3.8l17-9.2l3.7-1.1l3.8-0.1l3.7 1.2l1.9 1.1l7.5 7.6l7.5 9.3l7.6 7.8l2.7 3.5l1.9 3.7l2.9 7.3l3.2 11.4l0.8 7.6l-0.3 15l0.5 15l-0.5 3.7l-4.1 16.9l-2.7 20.6l-1.4 5.6l-3.1 5.6l-5.2 5.7l-7.9 5.7l-5.6 2.4l-1.9-0.1l-5.7-1.7l-5.6 1.3l-9.4 0.7l-15 0.3l-7.5 1.9l-9.4 0.1l-7.5-1z" fill="#443b84"/>
<path d="M454.4 534.8l231.2 0l0-232.6l-99.1 0l1.3 3.8l4.3 5.6l22.8 20.6l8.6 9l9.1 11.7l1.7 3.7l0.5 2.2l0.9 7.2l-0.7 7.5l0.9 5.6l-0.4 9.4l2.9 9.4l0.7 7.5l-1 7.5l-1.4 3.5l-1.9 2.6l-12.3 10.8l-1.6 1.8l-2.3 3.8l-1.4 3.7l-0.6 7.5l-1.6 9.4l1.5 7.5l-0.1 1.9l-0.8 3.7l-1.4 2.1l-3.8 2.2l-16.9 5.9l-1.9 1.4l-5.6 6l-1.9 1.6l-1.9 1l-1.9 0.6l-3.7 0.2l-5.7-1.5l-1.9-0.1l-3.1 1.3l-6.4 3.7l-0.3 3.7l-2.2 1.9l-3 0.3l-3.7-3l-18.8 2.9l-13.2-0.9l-7.5-1.2l-26.3-5.6l-5.1-1.8l-2.8-1.9l-1.5-1.5l-1.9-2.9l-2.3-5l-3.5-9.4l-4-16.9l-1-5.6l0.1-3.7l1.4-7.5l1.1-3.8l2.2-5.6l1-3.8l2-16.8l0.8-3.8l1.8-3.7l2.7-3.8l12.7-14.2l15.1-19.5l12-13.2l4.1-5.6l4.2-7.5l6.8-7.5l1.8-3.7l0.7-3.8l-1.3-11.2l-0.1-5.7l-79 0l0 232.6z" fill="#3e4a89"/>
<path d="M454.4 534.8l231.2 0l0-232.6l-41.9 0l2.1 13.2l1.3 5.6l2.7 7.5l3.6 13.1l2 13.2l-0.6 15l-2.6 18.7l-1.5 24.4l-0.8 4.3l-1.9 5.4l-10 12.8l-2 3.7l-3 16.9l-1.3 1.9l-2.5 2.5l-0.6 1.2l-1.6 9.4l-1.6 3.8l-2.2 1.8l-3.4 1.3l-16.9 3.2l-5.7 1.9l-3.7 3l-3.4 3.8l-4.1 5.6l-1.9 1.9l-7.5 4l-7.6 3.3l-13.1 3.6l-3.8-0.5l-1.8-1.2l-5.7 1.4l-11.3 3.9l-5.6 0.7l-5.6-0.6l-30.1-6.1l-15-4.2l-5.6-2.5l-2.8-1.9l-1.9-1.8l-5.4-7.5l-5-13.1l-1.9-3l-1.9-1.8l0 64.8zM454.2 392.2l5.9-4.5l15-12.8l15-15.3l13.2-11.8l5.2-6.2l4.1-7.5l4.7-13.1l1.3-9.4l-0.6-9.4l-65.5 0l0 91.1z" fill="#38598c"/>
<path d="M454.4 534.8l231.2 0l0-175l-5.7 3.7l-5.6 5.2l-3.8 4.8l-3.7 6.2l-3.8 7.8l-2.1 6.6l-0.9 5.7l-0.8 13.1l-1.9 9.3l-1.8 5.7l-4.2 7.5l-1.4 3.7l-0.4 3.8l0.3 9.3l-1.1 9.4l-0.2 7.5l-0.5 2.2l-1.9 2.7l-1.9 0.8l-1.9-0.4l-3.7-3.4l-1.9-0.7l-1.9 1.4l-4.6 8.7l-1.7 1.8l-3.1 2.2l-1.9 0.4l-7.5-1.2l-3.7 0.1l-7.5 1.2l-3.8 1.1l-7.2 5.6l-7.9 9.4l-5.6 3.3l-15 6.5l-5.9 3.3l-1.1 1.9l0.3 3.8l-0.5 1.8l-2.2 3.3l-1.9 1l-1.9-0.9l-1.8-4.8l-7.6 2.4l-13.1 1.2l-7.5 0.2l-28.2-5.4l-9.4-2.9l-11.3-4.2l-11.3-4.6l-5.6-3.4l-3.8-1.4l0 32.7zM454.4 362.8l9.4-3.6l16.9-9.3l9.4-4.1l3.8-2.3l4.1-3.7l2.8-3.8l2.1-3.8l2.8-9.3l1.5-9.4l-0.2-11.3l-54.5 0l0 60.9zM685.6 348.1l0-31.3l-1.9 0.2l-1.3-1.6l-0.6-1.9l-0.1-5.6l0.7-5.7l-19.4 0l-0.7 0l0.7 3.8l1.9 4.6l1.9 2.9l1.8 2.2l3.8 3.3l9.4 5.8l0.9 1.8l-1.6 7.5l-0.1 5.7l0.8 3.7l1 1.9l1.7 1.8z" fill="#31668e"/>
<path d="M454.4 534.8l25.3 0l-2-1.9l-6.4-4.1l-11.2-5.8l-3.8-1.5l-3.8-0.6l0 13.9zM540.9 534.8l144.7 0l0-136.1l-1.9 0.5l-5.7 2.1l-1.8 1.2l-1.9 1.9l-1.5 2.8l-2.8 9.4l-8.1 20.6l-1.1 5.7l-1 13.1l-3.3 18.8l-1.1 3.7l-2.2 3.7l-3.3 1.9l-5.7 1.1l-7.5 2.2l-6.2 2.4l-5.1 1l-3.7-0.3l-5.7-1.9l-3.7-0.6l-3.8 0.1l-3.7 0.8l-5.2 2.7l-2.4 1.9l-1.8 2.4l-3.8 3.2l-3.5 3.8l-2.1 1.5l-13.2 6.9l-5.6 3.7l-1.9 2.3l-4.1 8.1l-1.5 1.8l-1.9 1.5l-3.8 1.6l-9.4 1.8l-2 0.8l-2.7 1.9zM465.7 334.5l1.9 0.6l3.7 0.5l11.3-0.6l1.9-0.6l3.8-2.2l2.2-1.8l2.6-3.8l1.7-5.6l0.4-5.6l-0.6-5.6l-1.4-7.6l-12.5 0l-23.2 0l-1.2 3.8l-3.7 7.5l-0.1 5.4l2.4 4l2.9 3.7l5.1 5.6l2.2 1.9z" fill="#2c728e"/>
<path d="M557.8 534.8l127.8 0l0-103.3l-3.8 2l-1.9 1.9l-2.4 3.7l-4.8 13.1l-3.2 11.3l-8.4 20.3l-1.9 3.5l-1.8 2.1l-3.8 2.4l-7.5 3.1l-5.9 4.2l-3.5 1.2l-1.9 0.1l-4.2-1.3l-5.2-2.8l-11.2-3.7l-5.7-0.6l-3.7 0.9l-3.8 2.3l-11.4 9.6l-17.9 11.2l-4.5 5.3l-3.8 6.7l-3.4 3l-2.9 3.8z" fill="#277e8e"/>
<path d="M563.4 534.8l122.2 0l0-62.5l-3.8 2.5l-7.5 6.7l-7.5 7.7l-3.8 4.3l-3.8 6.1l-1.8 1.1l-3.8 1l-2.2 1.2l-9.1 1.7l-7.5-0.2l-5.2-1.5l-7.9-3.8l-7.5-2.3l-5.7-0.5l-3.7 1.2l-9.4 5.5l-9.4 6.8l-9.5 6.2l-7.5 8.6l-6.4 10.2z" fill="#238a8d"/>
<path d="M569 534.8l93 0l1-3.8l3.8-4.3l7.5-7l3.7-2.5l1 0.7l1.6 5.6l2 11.3l3 0l0-16.9l0-3.2l-1.9-0.9l-3.8-3.5l-1.9-1.2l-5.6-0.2l-15-2l-24.5-0.2l-3.7-1.2l-7.5-3.4l-11.3-1.8l-3.8 1.5l-3.7 0.3l-5.7 2.4l-6.4 4l-10 7.5l-2.1 1.9l-5.8 7.5l-3.9 5.6l-1.8 3.8z" fill="#1f968b"/>
<path d="M572.8 534.8l86.4 0l0.4-5.7l5.9-9.3l0.6-1.9l-0.1-1.9l-1.5-1.9l-1.5-1l-5.6-2.3l-5.7-0.8l-20.6-1.3l-9.4-3.9l-9.4-1.3l-11.3 1.7l-3.8 1.5l-3.7 2.2l-10.8 9l-8.3 11.2l-1.7 3.8l-0.4 1.9z" fill="#1fa287"/>
<path d="M578.4 534.8l78.7 0l-0.2-7.6l2.2-5.6l0.4-3.7l-1-1.9l-1.1-0.9l-1.9-1.1l-3.8-1.1l-22.5-2.4l-7.5-3.2l-9.4-1.3l-9.4 0.5l-5.7 2.3l-3.7 2.3l-7.1 6.8l-4.2 5.6l-2.2 3.7l-1.7 3.8l-0.5 3.8z" fill="#28ae80"/>
<path d="M584.1 534.8l70.4 0l-0.4-7.6l0.2-1.8l1.2-3.8l-0.1-1.8l-1.8-2.2l-3.7-1.5l-3.8-0.9l-13.2-1.6l-5.8-1.4l-5.4-2.3l-11.3-2.2l-3.8 0l-3.7 0.7l-7.7 3.8l-2.2 1.9l-3.5 3.8l-3.2 5.6l-1.6 3.7l-1.2 3.8l-0.7 3.8z" fill="#38b977"/>
<path d="M587.8 534.8l59.5 0l3.8-5.7l-0.1-7.5l-1.1-1.2l-1.9-1l-5.7-1.4l-2.5-0.1l-1.8 1.9l-1.3 0.8l-1.9 0l-1.9-1l-4-3.6l-7.2-3.3l-9.4-2l-3.8-1.4l-3.7 0.5l-3.8 1.5l-4.6 2.8l-3.7 3.8l-1.1 1.9l-2.1 5.6l-1.9 9.4z" fill="#50c46a"/>
<path d="M593.5 534.8l34.6 0l-0.3-1.9l1.4-1l7.5-0.7l0-0.6l-1.4-1.5l-2.4-0.9l-4.7-2.8l-0.9-1.3l-1.5-4.3l-2.3-2.6l-3.7-1.9l-3.9-1.2l-5.5-0.9l-1.9-1.3l-1.9-0.2l-2.4 0.5l-3.5 1.9l-2.3 1.9l-1.9 1.9l-1.2 1.9l-0.7 1.8l-1 5.6l0.1 3.8l-0.5 3.8z" fill="#6ccd5a"/>
<path d="M601 533.1l2.4 1.7l17.7 0l-1.2-3.8l-0.2-1.9l1-5.6l-0.4-1.9l-1.2-1.8l-3.7-1.9l-8.8-1.8l-4.1 1.8l-2 1.9l-1.2 1.8l-0.4 1.9l0.5 5.6l1.1 1.9l0.3 1.9z" fill="#8bd646"/>
</g></g>
<g clip-path="url(#cp3)" fill="none" stroke="#000" stroke-width="1.1" stroke-dasharray="3.1 1.6">
<ellipse cx="531.47" cy="437.25" rx="30.07" ry="30.00"/>
<ellipse cx="531.47" cy="437.25" rx="60.13" ry="60.00"/>
<ellipse cx="531.47" cy="437.25" rx="90.20" ry="90.00"/>
<ellipse cx="531.47" cy="437.25" rx="120.27" ry="120.00"/>
<ellipse cx="531.47" cy="437.25" rx="150.33" ry="150.00"/>
</g>
<line x1="456.3" y1="437.25" x2="681.8" y2="437.25" stroke="#000" stroke-width="1.5"/>
<line x1="531.47" y1="306.0" x2="531.47" y2="531.0" stroke="#000" stroke-width="1.5"/>
<g clip-path="url(#cp3)"><path d="M523.2 374.9H539.8M531.5 366.5V383.3" stroke="#f00" stroke-width="1.7" fill="none"/><circle cx="494.0" cy="331.3" r="1.75" fill="#000"/>
<circle cx="504.4" cy="333.1" r="1.75" fill="#000"/>
<circle cx="520.2" cy="337.1" r="1.75" fill="#000"/>
<circle cx="506.0" cy="343.1" r="1.75" fill="#000"/>
<circle cx="505.8" cy="352.8" r="1.75" fill="#000"/>
<circle cx="504.8" cy="353.6" r="1.75" fill="#000"/>
<circle cx="503.7" cy="360.8" r="1.75" fill="#000"/>
<circle cx="515.1" cy="362.6" r="1.75" fill="#000"/>
<circle cx="528.8" cy="362.9" r="1.75" fill="#000"/>
<circle cx="552.1" cy="329.3" r="1.75" fill="#000"/>
<circle cx="556.3" cy="328.6" r="1.75" fill="#000"/>
<circle cx="569.5" cy="335.5" r="1.75" fill="#000"/>
<circle cx="545.4" cy="344.7" r="1.75" fill="#000"/>
<circle cx="558.2" cy="350.4" r="1.75" fill="#000"/>
<circle cx="541.4" cy="356.7" r="1.75" fill="#000"/>
<circle cx="545.4" cy="358.8" r="1.75" fill="#000"/>
<circle cx="551.1" cy="360.9" r="1.75" fill="#000"/>
<circle cx="540.6" cy="362.9" r="1.75" fill="#000"/>
<circle cx="541.9" cy="364.7" r="1.75" fill="#000"/>
<circle cx="555.8" cy="362.9" r="1.75" fill="#000"/>
<circle cx="556.9" cy="364.7" r="1.75" fill="#000"/>
<circle cx="560.0" cy="364.9" r="1.75" fill="#000"/>
<circle cx="562.7" cy="363.9" r="1.75" fill="#000"/>
<circle cx="563.7" cy="362.9" r="1.75" fill="#000"/>
<circle cx="567.4" cy="362.9" r="1.75" fill="#000"/>
<circle cx="549.5" cy="367.8" r="1.75" fill="#000"/>
<circle cx="527.7" cy="369.7" r="1.75" fill="#000"/>
<circle cx="529.8" cy="371.8" r="1.75" fill="#000"/>
<circle cx="535.1" cy="372.8" r="1.75" fill="#000"/>
<circle cx="542.1" cy="375.4" r="1.75" fill="#000"/>
<circle cx="581.1" cy="334.7" r="1.75" fill="#000"/>
<circle cx="576.3" cy="343.6" r="1.75" fill="#000"/>
<circle cx="572.9" cy="358.1" r="1.75" fill="#000"/>
<circle cx="581.8" cy="364.9" r="1.75" fill="#000"/>
<circle cx="585.5" cy="367.9" r="1.75" fill="#000"/>
<circle cx="584.2" cy="371.8" r="1.75" fill="#000"/>
<circle cx="594.8" cy="367.7" r="1.75" fill="#000"/>
<circle cx="606.9" cy="366.5" r="1.75" fill="#000"/>
<circle cx="541.2" cy="375.0" r="1.75" fill="#000"/>
<circle cx="529.8" cy="384.7" r="1.75" fill="#000"/>
<circle cx="538.2" cy="382.9" r="1.75" fill="#000"/>
<circle cx="555.8" cy="379.4" r="1.75" fill="#000"/>
<circle cx="557.4" cy="381.0" r="1.75" fill="#000"/>
<circle cx="558.5" cy="382.1" r="1.75" fill="#000"/>
<circle cx="535.1" cy="388.9" r="1.75" fill="#000"/>
<circle cx="541.2" cy="388.6" r="1.75" fill="#000"/>
<circle cx="536.9" cy="392.0" r="1.75" fill="#000"/>
<circle cx="555.8" cy="386.8" r="1.75" fill="#000"/>
<circle cx="556.9" cy="388.4" r="1.75" fill="#000"/>
<circle cx="557.9" cy="389.9" r="1.75" fill="#000"/>
<circle cx="552.3" cy="391.0" r="1.75" fill="#000"/>
<circle cx="544.9" cy="393.8" r="1.75" fill="#000"/>
<circle cx="545.3" cy="395.2" r="1.75" fill="#000"/>
<circle cx="535.8" cy="395.7" r="1.75" fill="#000"/>
<circle cx="534.2" cy="396.8" r="1.75" fill="#000"/>
<circle cx="533.2" cy="397.3" r="1.75" fill="#000"/>
<circle cx="526.3" cy="399.4" r="1.75" fill="#000"/>
<circle cx="543.5" cy="399.9" r="1.75" fill="#000"/>
<circle cx="537.9" cy="402.5" r="1.75" fill="#000"/>
<circle cx="540.6" cy="403.1" r="1.75" fill="#000"/>
<circle cx="542.3" cy="405.7" r="1.75" fill="#000"/>
<circle cx="549.5" cy="404.6" r="1.75" fill="#000"/>
<circle cx="551.1" cy="407.9" r="1.75" fill="#000"/>
<circle cx="552.1" cy="407.9" r="1.75" fill="#000"/>
<circle cx="561.6" cy="400.8" r="1.75" fill="#000"/>
<circle cx="562.4" cy="404.3" r="1.75" fill="#000"/>
<circle cx="537.9" cy="410.6" r="1.75" fill="#000"/>
<circle cx="561.8" cy="413.1" r="1.75" fill="#000"/>
<circle cx="547.7" cy="412.6" r="1.75" fill="#000"/>
<circle cx="559.0" cy="421.2" r="1.75" fill="#000"/>
<circle cx="554.8" cy="425.7" r="1.75" fill="#000"/>
<circle cx="555.8" cy="426.8" r="1.75" fill="#000"/>
<circle cx="575.5" cy="378.7" r="1.75" fill="#000"/>
<circle cx="584.5" cy="385.0" r="1.75" fill="#000"/>
<circle cx="583.4" cy="387.8" r="1.75" fill="#000"/>
<circle cx="577.8" cy="390.8" r="1.75" fill="#000"/>
<circle cx="586.8" cy="390.7" r="1.75" fill="#000"/>
<circle cx="583.4" cy="393.4" r="1.75" fill="#000"/>
<circle cx="587.4" cy="394.9" r="1.75" fill="#000"/>
<circle cx="600.2" cy="386.6" r="1.75" fill="#000"/>
<circle cx="596.6" cy="392.0" r="1.75" fill="#000"/>
<circle cx="597.1" cy="393.8" r="1.75" fill="#000"/>
<circle cx="588.4" cy="408.0" r="1.75" fill="#000"/>
<circle cx="612.9" cy="404.6" r="1.75" fill="#000"/>
<circle cx="614.5" cy="408.0" r="1.75" fill="#000"/>
<circle cx="616.0" cy="407.9" r="1.75" fill="#000"/>
<circle cx="621.3" cy="406.1" r="1.75" fill="#000"/>
<circle cx="574.5" cy="417.5" r="1.75" fill="#000"/>
<circle cx="586.6" cy="416.8" r="1.75" fill="#000"/>
<circle cx="593.4" cy="423.1" r="1.75" fill="#000"/>
<circle cx="610.8" cy="419.7" r="1.75" fill="#000"/>
<circle cx="623.9" cy="423.6" r="1.75" fill="#000"/>
<circle cx="623.4" cy="424.6" r="1.75" fill="#000"/>
<circle cx="575.3" cy="428.0" r="1.75" fill="#000"/>
<circle cx="531.9" cy="431.8" r="1.75" fill="#000"/>
<circle cx="564.8" cy="439.1" r="1.75" fill="#000"/>
<circle cx="564.2" cy="450.5" r="1.75" fill="#000"/>
<circle cx="561.6" cy="457.6" r="1.75" fill="#000"/>
<circle cx="562.1" cy="458.6" r="1.75" fill="#000"/>
<circle cx="560.8" cy="465.2" r="1.75" fill="#000"/>
<circle cx="565.6" cy="477.0" r="1.75" fill="#000"/>
<circle cx="587.6" cy="434.7" r="1.75" fill="#000"/>
<circle cx="588.7" cy="436.2" r="1.75" fill="#000"/>
<circle cx="604.2" cy="438.9" r="1.75" fill="#000"/>
<circle cx="576.3" cy="440.2" r="1.75" fill="#000"/>
<circle cx="584.2" cy="441.0" r="1.75" fill="#000"/>
<circle cx="575.8" cy="443.9" r="1.75" fill="#000"/>
<circle cx="579.7" cy="446.5" r="1.75" fill="#000"/>
<circle cx="586.6" cy="445.8" r="1.75" fill="#000"/>
<circle cx="596.6" cy="442.8" r="1.75" fill="#000"/>
<circle cx="598.1" cy="445.4" r="1.75" fill="#000"/>
<circle cx="603.7" cy="449.6" r="1.75" fill="#000"/>
<circle cx="608.4" cy="451.6" r="1.75" fill="#000"/>
<circle cx="630.5" cy="443.9" r="1.75" fill="#000"/>
<circle cx="581.3" cy="454.4" r="1.75" fill="#000"/>
<circle cx="583.1" cy="456.0" r="1.75" fill="#000"/>
<circle cx="584.5" cy="457.3" r="1.75" fill="#000"/>
<circle cx="597.4" cy="457.1" r="1.75" fill="#000"/>
<circle cx="600.5" cy="459.7" r="1.75" fill="#000"/>
<circle cx="612.3" cy="457.2" r="1.75" fill="#000"/>
<circle cx="620.2" cy="465.7" r="1.75" fill="#000"/>
<circle cx="576.6" cy="470.5" r="1.75" fill="#000"/>
<circle cx="588.7" cy="469.4" r="1.75" fill="#000"/>
<circle cx="584.5" cy="472.0" r="1.75" fill="#000"/>
<circle cx="610.8" cy="469.6" r="1.75" fill="#000"/>
<circle cx="609.7" cy="472.6" r="1.75" fill="#000"/>
<circle cx="585.8" cy="475.4" r="1.75" fill="#000"/>
<circle cx="589.7" cy="475.1" r="1.75" fill="#000"/>
<circle cx="588.1" cy="479.1" r="1.75" fill="#000"/>
<circle cx="582.9" cy="483.4" r="1.75" fill="#000"/>
<circle cx="575.3" cy="486.0" r="1.75" fill="#000"/>
<circle cx="603.4" cy="485.5" r="1.75" fill="#000"/>
<circle cx="584.2" cy="486.1" r="1.75" fill="#000"/>
<circle cx="596.3" cy="488.6" r="1.75" fill="#000"/>
<circle cx="600.5" cy="503.3" r="1.75" fill="#000"/>
<circle cx="531.6" cy="374.8" r="1.75" fill="#000"/></g>
<path d="M457.2 308.4L460.2 306.7" stroke="#f4f4f4" stroke-width="1.3" stroke-linecap="round"/>
<rect x="456.3" y="306.0" width="225.5" height="225.3" fill="none" stroke="#2a2a2a" stroke-width="0.85"/>
<path d="M456.30 531.0V534.0M531.47 531.0V534.0M606.63 531.0V534.0M681.80 531.0V534.0M456.3  512.25H453.3M456.3  474.75H453.3M456.3  437.25H453.3M456.3  399.75H453.3M456.3  362.25H453.3M456.3  324.75H453.3" stroke="#222" stroke-width="0.8" fill="none"/>
<text x="455.45" y="552.3" class="t">10</text>
<rect x="444.55" y="547" width="8.8" height="1" fill="#111" fill-opacity="0.85"/>
<text x="531.47" y="552.3" text-anchor="middle" class="t">0</text>
<text x="606.63" y="552.3" text-anchor="middle" class="t">10</text>
<text x="681.80" y="552.3" text-anchor="middle" class="t">20</text>
<text x="446.7" y="518.45" text-anchor="end" class="t">10</text>
<rect x="422.10" y="514" width="8.8" height="1" fill="#111" fill-opacity="0.85"/>
<text x="446.7" y="480.95" text-anchor="end" class="t">5</text>
<rect x="429.10" y="476" width="8.8" height="1" fill="#111" fill-opacity="0.85"/>
<text x="446.7" y="443.45" text-anchor="end" class="t">0</text>
<text x="446.7" y="405.95" text-anchor="end" class="t">5</text>
<text x="446.7" y="368.45" text-anchor="end" class="t">10</text>
<text x="446.7" y="330.95" text-anchor="end" class="t">15</text>
<text x="569.55" y="567.8" text-anchor="middle" class="l" textLength="47" lengthAdjust="spacing">X (kpc)</text>
<text transform="translate(415.0 418.6) rotate(-90)" text-anchor="middle" class="l" textLength="47.2" lengthAdjust="spacing">Y (kpc)</text>
<rect x="697.3" y="306.00" width="11.7" height="225.00" fill="#efe51c"/>
<rect x="697.3" y="317.25" width="11.7" height="213.75" fill="#cde11d"/>
<rect x="697.3" y="328.50" width="11.7" height="202.50" fill="#addc30"/>
<rect x="697.3" y="339.75" width="11.7" height="191.25" fill="#8bd646"/>
<rect x="697.3" y="351.00" width="11.7" height="180.00" fill="#6ccd5a"/>
<rect x="697.3" y="362.25" width="11.7" height="168.75" fill="#50c46a"/>
<rect x="697.3" y="373.50" width="11.7" height="157.50" fill="#38b977"/>
<rect x="697.3" y="384.75" width="11.7" height="146.25" fill="#28ae80"/>
<rect x="697.3" y="396.00" width="11.7" height="135.00" fill="#1fa287"/>
<rect x="697.3" y="407.25" width="11.7" height="123.75" fill="#1f968b"/>
<rect x="697.3" y="418.50" width="11.7" height="112.50" fill="#238a8d"/>
<rect x="697.3" y="429.75" width="11.7" height="101.25" fill="#277e8e"/>
<rect x="697.3" y="441.00" width="11.7" height="90.00" fill="#2c728e"/>
<rect x="697.3" y="452.25" width="11.7" height="78.75" fill="#31668e"/>
<rect x="697.3" y="463.50" width="11.7" height="67.50" fill="#38598c"/>
<rect x="697.3" y="474.75" width="11.7" height="56.25" fill="#3e4a89"/>
<rect x="697.3" y="486.00" width="11.7" height="45.00" fill="#443b84"/>
<rect x="697.3" y="497.25" width="11.7" height="33.75" fill="#472d7b"/>
<rect x="697.3" y="508.50" width="11.7" height="22.50" fill="#481c6e"/>
<rect x="697.3" y="519.75" width="11.7" height="11.25" fill="#460a5d"/>
<rect x="697.3" y="306.0" width="11.7" height="225" fill="none" stroke="#222" stroke-width="0.8"/>
<text x="718.8" y="536.40" class="t">0.00</text>
<text x="718.8" y="491.40" class="t">0.08</text>
<text x="718.8" y="446.40" class="t">0.16</text>
<text x="718.8" y="401.40" class="t">0.24</text>
<text x="718.8" y="356.40" class="t">0.32</text>
<text x="718.8" y="311.40" class="t">0.40</text>
<path d="M709.0 531.00h3M709.0 486.00h3M709.0 441.00h3M709.0 396.00h3M709.0 351.00h3M709.0 306.00h3" stroke="#222" stroke-width="0.8" fill="none"/>
<text transform="translate(757.4 420.1) rotate(-90)" text-anchor="middle" class="l" textLength="158.6" lengthAdjust="spacing">Positive Uncertainty (dex)</text>
</svg></body></html>
